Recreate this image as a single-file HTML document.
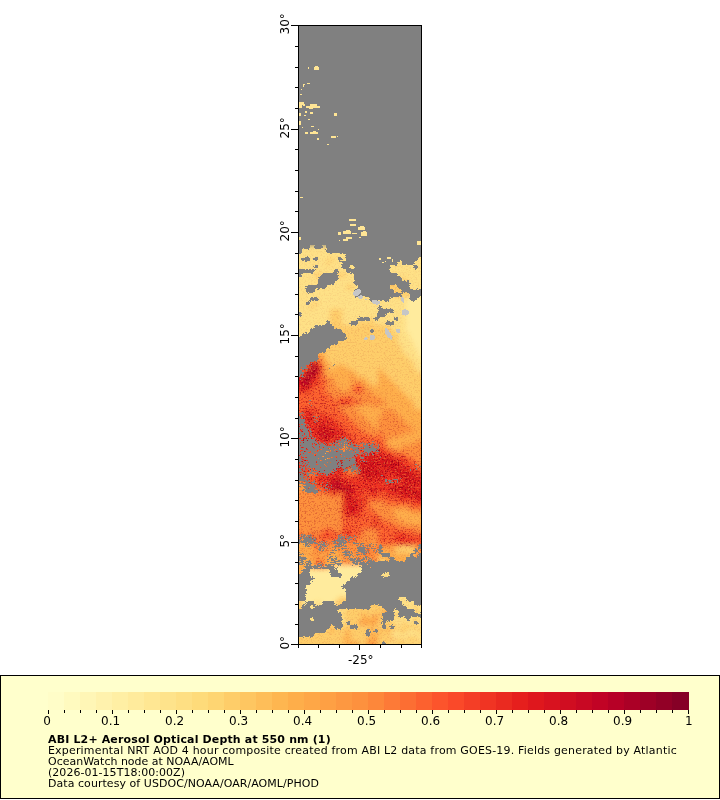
<!DOCTYPE html>
<html><head><meta charset="utf-8"><title>ABI L2+ Aerosol Optical Depth at 550 nm</title>
<style>
html,body{margin:0;padding:0;background:#fff;}
body{width:720px;height:800px;overflow:hidden;position:relative;font-family:"DejaVu Sans","Liberation Sans",sans-serif;}
svg{position:absolute;left:0;top:0;}
text{font-family:"DejaVu Sans","Liberation Sans",sans-serif;fill:#000;}
</style></head><body>
<svg width="720" height="800" viewBox="0 0 720 800">

<g id="map" shape-rendering="crispEdges">
<rect x="298" y="25" width="124" height="620" fill="#808080"/>
<defs><clipPath id="mc"><rect x="298" y="25" width="124" height="620"/></clipPath><filter id="bl" x="-5%" y="-5%" width="110%" height="110%"><feGaussianBlur stdDeviation="2.6"/></filter><filter id="nzd" filterUnits="userSpaceOnUse" x="298" y="245" width="124" height="400" color-interpolation-filters="sRGB"><feGaussianBlur in="SourceAlpha" stdDeviation="2.2" result="a"/><feTurbulence type="fractalNoise" baseFrequency="0.62" numOctaves="2" seed="11" result="t"/><feColorMatrix in="t" type="matrix" values="0 0 0 0 0.62  0 0 0 0 0.0  0 0 0 0 0.10  5 0 0 0 -2.55" result="n"/><feComposite in="n" in2="a" operator="in"/></filter><filter id="nzl" filterUnits="userSpaceOnUse" x="298" y="245" width="124" height="400" color-interpolation-filters="sRGB"><feGaussianBlur in="SourceAlpha" stdDeviation="2.2" result="a"/><feTurbulence type="fractalNoise" baseFrequency="0.62" numOctaves="2" seed="29" result="t"/><feColorMatrix in="t" type="matrix" values="0 0 0 0 1.0  0 0 0 0 0.62  0 0 0 0 0.25  0 5 0 0 -2.7" result="n"/><feComposite in="n" in2="a" operator="in"/></filter></defs>
<g clip-path="url(#mc)">
<g filter="url(#bl)">
<path fill="#ffeb9d" d="M418 293h12v4h-12zM406 297h24v4h-24zM406 301h24v4h-24zM406 305h24v4h-24zM406 309h24v4h-24zM406 313h24v4h-24zM406 317h24v4h-24zM406 321h24v4h-24zM406 325h24v4h-24zM406 329h24v4h-24zM410 333h20v4h-20zM410 337h20v4h-20zM414 341h16v4h-16zM414 345h16v4h-16zM418 349h12v4h-12zM418 353h12v4h-12zM334 565h32v4h-32zM306 569h64v4h-64zM306 573h64v4h-64zM306 577h64v4h-64zM302 581h68v4h-68zM290 585h80v4h-80zM290 589h76v4h-76zM290 593h72v4h-72zM302 597h36v4h-36zM306 601h8v4h-8zM322 601h12v4h-12zM322 605h12v4h-12zM322 609h8v4h-8zM322 613h8v4h-8z"/>
<path fill="#fee187" d="M290 245h140v4h-140zM290 249h140v4h-140zM290 253h140v4h-140zM290 257h40v4h-40zM334 257h96v4h-96zM290 261h36v4h-36zM330 261h100v4h-100zM290 265h140v4h-140zM290 269h140v4h-140zM290 273h24v4h-24zM322 273h12v4h-12zM346 273h84v4h-84zM290 277h28v4h-28zM322 277h80v4h-80zM406 277h24v4h-24zM290 281h84v4h-84zM398 281h4v4h-4zM406 281h24v4h-24zM290 285h56v4h-56zM354 285h20v4h-20zM406 285h24v4h-24zM290 289h92v4h-92zM410 289h20v4h-20zM290 293h104v4h-104zM414 293h4v4h-4zM290 297h116v4h-116zM290 301h24v4h-24zM318 301h88v4h-88zM290 305h20v4h-20zM314 305h92v4h-92zM290 309h40v4h-40zM342 309h64v4h-64zM290 313h40v4h-40zM342 313h64v4h-64zM290 317h40v4h-40zM342 317h28v4h-28zM374 317h32v4h-32zM290 321h40v4h-40zM342 321h16v4h-16zM374 321h32v4h-32zM290 325h40v4h-40zM390 325h16v4h-16zM290 329h40v4h-40zM394 329h12v4h-12zM290 333h40v4h-40zM398 333h12v4h-12zM290 337h36v4h-36zM398 337h12v4h-12zM290 341h24v4h-24zM398 341h16v4h-16zM290 345h20v4h-20zM402 345h12v4h-12zM290 349h16v4h-16zM402 349h16v4h-16zM290 353h12v4h-12zM406 353h12v4h-12zM410 357h20v4h-20zM414 361h16v4h-16zM414 365h16v4h-16zM418 369h12v4h-12zM378 569h16v4h-16zM370 573h32v4h-32zM370 577h32v4h-32zM410 577h4v4h-4zM370 581h60v4h-60zM374 585h56v4h-56zM382 589h48v4h-48zM386 593h44v4h-44zM386 597h44v4h-44zM302 601h4v4h-4zM314 601h8v4h-8zM390 601h40v4h-40zM302 605h20v4h-20zM342 605h4v4h-4zM390 605h24v4h-24zM418 605h12v4h-12zM302 609h20v4h-20zM330 609h16v4h-16zM390 609h24v4h-24zM418 609h12v4h-12zM302 613h20v4h-20zM330 613h12v4h-12zM402 613h12v4h-12zM418 613h12v4h-12zM302 617h24v4h-24zM334 617h12v4h-12zM390 617h24v4h-24zM418 617h12v4h-12zM302 621h20v4h-20zM334 621h12v4h-12zM394 621h8v4h-8zM406 621h8v4h-8zM418 621h12v4h-12zM306 625h8v4h-8zM398 625h4v4h-4zM418 625h12v4h-12zM394 629h4v4h-4zM406 629h12v4h-12zM390 633h40v4h-40zM394 637h4v4h-4zM402 637h4v4h-4zM418 637h12v4h-12zM390 641h4v12h-4zM406 641h4v12h-4zM414 641h4v12h-4z"/>
<path fill="#fece6a" d="M330 257h4v4h-4zM326 261h4v4h-4zM314 273h8v4h-8zM334 273h12v4h-12zM318 277h4v4h-4zM402 277h4v4h-4zM374 281h24v4h-24zM402 281h4v4h-4zM346 285h8v4h-8zM374 285h32v4h-32zM382 289h28v4h-28zM394 293h20v4h-20zM314 301h4v4h-4zM310 305h4v4h-4zM330 309h12v4h-12zM330 313h12v4h-12zM330 317h12v4h-12zM370 317h4v4h-4zM330 321h12v4h-12zM358 321h16v4h-16zM330 325h60v4h-60zM330 329h64v4h-64zM330 333h68v4h-68zM326 337h72v4h-72zM322 341h76v4h-76zM322 345h80v4h-80zM322 349h80v4h-80zM326 353h80v4h-80zM326 357h84v4h-84zM330 361h84v4h-84zM330 365h4v4h-4zM346 365h68v4h-68zM354 369h24v4h-24zM382 369h36v4h-36zM358 373h20v4h-20zM386 373h44v4h-44zM366 377h12v4h-12zM390 377h40v4h-40zM370 381h8v4h-8zM394 381h36v4h-36zM398 385h32v4h-32zM402 389h28v4h-28zM406 393h24v4h-24zM410 397h20v4h-20zM414 401h16v4h-16zM414 405h16v4h-16zM398 545h16v4h-16zM394 549h20v4h-20zM410 553h4v4h-4zM378 557h8v4h-8zM410 557h4v4h-4zM378 561h8v4h-8zM410 561h4v4h-4zM378 565h8v4h-8zM410 565h4v4h-4zM410 569h4v4h-4zM410 573h4v4h-4zM370 585h4v4h-4zM366 589h16v4h-16zM362 593h24v4h-24zM290 597h12v4h-12zM338 597h48v4h-48zM290 601h12v4h-12zM334 601h56v4h-56zM290 605h12v4h-12zM334 605h8v4h-8zM346 605h44v4h-44zM414 605h4v4h-4zM290 609h12v4h-12zM346 609h36v4h-36zM414 609h4v4h-4zM290 613h12v4h-12zM342 613h20v4h-20zM366 613h8v4h-8zM378 613h4v4h-4zM390 613h12v4h-12zM414 613h4v4h-4zM290 617h12v4h-12zM326 617h8v4h-8zM346 617h16v4h-16zM378 617h12v4h-12zM414 617h4v4h-4zM290 621h12v4h-12zM322 621h12v4h-12zM346 621h12v4h-12zM378 621h16v4h-16zM402 621h4v4h-4zM414 621h4v4h-4zM290 625h16v4h-16zM314 625h56v4h-56zM374 625h24v4h-24zM402 625h16v4h-16zM290 629h40v4h-40zM334 629h12v4h-12zM350 629h20v4h-20zM374 629h4v4h-4zM382 629h4v4h-4zM390 629h4v4h-4zM398 629h8v4h-8zM418 629h12v4h-12zM290 633h56v4h-56zM350 633h20v4h-20zM378 633h12v4h-12zM290 637h52v4h-52zM350 637h16v4h-16zM378 637h12v4h-12zM398 637h4v4h-4zM406 637h12v4h-12zM290 641h56v12h-56zM358 641h8v12h-8zM378 641h12v12h-12zM394 641h12v12h-12zM410 641h4v12h-4zM418 641h12v12h-12z"/>
<path fill="#feaf4b" d="M314 341h8v4h-8zM310 345h12v4h-12zM306 349h16v4h-16zM302 353h24v4h-24zM322 357h4v4h-4zM322 361h8v4h-8zM326 365h4v4h-4zM334 365h12v4h-12zM326 369h28v4h-28zM378 369h4v4h-4zM326 373h32v4h-32zM378 373h8v4h-8zM334 377h16v4h-16zM354 377h12v4h-12zM378 377h12v4h-12zM334 381h20v4h-20zM362 381h8v4h-8zM378 381h16v4h-16zM338 385h12v4h-12zM366 385h32v4h-32zM342 389h4v4h-4zM370 389h32v4h-32zM374 393h32v4h-32zM382 397h28v4h-28zM386 401h28v4h-28zM354 405h20v4h-20zM378 405h36v4h-36zM358 409h24v4h-24zM394 409h36v4h-36zM362 413h20v4h-20zM398 413h32v4h-32zM366 417h12v4h-12zM402 417h28v4h-28zM370 421h8v4h-8zM406 421h24v4h-24zM374 425h4v4h-4zM410 425h20v4h-20zM414 429h16v4h-16zM402 433h28v4h-28zM390 437h40v4h-40zM342 441h4v4h-4zM386 441h28v4h-28zM342 445h4v4h-4zM390 445h12v4h-12zM322 449h8v4h-8zM322 453h8v4h-8zM322 457h8v4h-8zM322 461h8v4h-8zM290 485h16v4h-16zM394 509h16v4h-16zM394 513h36v4h-36zM398 517h32v4h-32zM406 521h24v4h-24zM290 541h20v4h-20zM374 541h4v4h-4zM290 545h24v4h-24zM382 545h4v4h-4zM390 545h8v4h-8zM414 545h4v4h-4zM290 549h12v4h-12zM306 549h8v4h-8zM330 549h8v4h-8zM382 549h8v4h-8zM414 549h4v4h-4zM290 553h20v4h-20zM318 553h8v4h-8zM330 553h12v4h-12zM350 553h4v4h-4zM378 553h32v4h-32zM290 557h24v4h-24zM326 557h16v4h-16zM350 557h4v4h-4zM386 557h24v4h-24zM290 561h24v4h-24zM326 561h16v4h-16zM386 561h24v4h-24zM290 565h24v4h-24zM326 565h8v4h-8zM386 565h24v4h-24zM290 569h16v4h-16zM394 569h16v4h-16zM290 573h16v4h-16zM402 573h8v4h-8zM290 577h16v4h-16zM402 577h8v4h-8zM290 581h12v4h-12zM382 609h8v4h-8zM362 613h4v4h-4zM374 613h4v4h-4zM382 613h8v4h-8zM362 617h12v4h-12zM358 621h4v4h-4zM366 621h12v4h-12zM370 625h4v4h-4zM330 629h4v4h-4zM346 629h4v4h-4zM370 629h4v4h-4zM378 629h4v4h-4zM386 629h4v4h-4zM346 633h4v4h-4zM370 633h8v4h-8zM342 637h8v4h-8zM366 637h12v4h-12zM390 637h4v4h-4zM346 641h12v12h-12zM366 641h4v12h-4zM374 641h4v12h-4z"/>
<path fill="#fd913e" d="M314 357h8v4h-8zM322 365h4v4h-4zM322 369h4v4h-4zM322 373h4v4h-4zM326 377h8v4h-8zM350 377h4v4h-4zM326 381h8v4h-8zM354 381h8v4h-8zM326 385h12v4h-12zM350 385h4v4h-4zM362 385h4v4h-4zM326 389h16v4h-16zM346 389h8v4h-8zM362 389h8v4h-8zM330 393h44v4h-44zM334 397h4v4h-4zM354 397h28v4h-28zM362 401h24v4h-24zM338 405h16v4h-16zM374 405h4v4h-4zM342 409h16v4h-16zM382 409h12v4h-12zM346 413h16v4h-16zM382 413h16v4h-16zM350 417h16v4h-16zM378 417h24v4h-24zM354 421h16v4h-16zM378 421h28v4h-28zM358 425h16v4h-16zM378 425h32v4h-32zM362 429h52v4h-52zM370 433h8v4h-8zM382 433h20v4h-20zM382 437h8v4h-8zM414 441h16v4h-16zM346 445h4v4h-4zM386 445h4v4h-4zM402 445h28v4h-28zM342 449h8v4h-8zM394 449h36v4h-36zM342 453h8v4h-8zM406 453h24v4h-24zM342 457h4v4h-4zM414 457h16v4h-16zM418 461h12v4h-12zM350 465h4v4h-4zM346 469h12v4h-12zM310 473h4v4h-4zM290 477h12v4h-12zM290 481h16v4h-16zM290 489h24v4h-24zM290 493h40v4h-40zM338 493h4v4h-4zM290 497h52v4h-52zM290 501h52v4h-52zM370 501h16v4h-16zM290 505h52v4h-52zM370 505h40v4h-40zM290 509h52v4h-52zM374 509h20v4h-20zM410 509h20v4h-20zM290 513h52v4h-52zM378 513h16v4h-16zM290 517h52v4h-52zM382 517h16v4h-16zM290 521h52v4h-52zM390 521h16v4h-16zM290 525h52v4h-52zM398 525h32v4h-32zM290 529h32v4h-32zM334 529h8v4h-8zM362 529h16v4h-16zM414 529h16v4h-16zM302 533h8v4h-8zM314 533h4v4h-4zM362 533h16v4h-16zM302 537h8v4h-8zM314 537h4v4h-4zM358 537h20v4h-20zM318 541h4v4h-4zM326 541h8v4h-8zM338 541h36v4h-36zM318 545h60v4h-60zM386 545h4v4h-4zM302 549h4v4h-4zM314 549h16v4h-16zM338 549h24v4h-24zM370 549h12v4h-12zM390 549h4v4h-4zM418 549h12v4h-12zM310 553h8v4h-8zM326 553h4v4h-4zM342 553h8v4h-8zM354 553h24v4h-24zM414 553h16v4h-16zM314 557h12v4h-12zM342 557h8v4h-8zM354 557h24v4h-24zM414 557h16v4h-16zM314 561h4v4h-4zM322 561h4v4h-4zM342 561h36v4h-36zM414 561h16v4h-16zM314 565h4v4h-4zM322 565h4v4h-4zM366 565h12v4h-12zM414 565h16v4h-16zM370 569h8v4h-8zM414 569h16v4h-16zM414 573h16v4h-16zM414 577h16v4h-16zM374 617h4v4h-4zM362 621h4v4h-4zM370 641h4v12h-4z"/>
<path fill="#fc602f" d="M290 365h20v4h-20zM290 369h16v4h-16zM318 377h8v4h-8zM318 381h8v4h-8zM314 385h12v4h-12zM354 385h8v4h-8zM310 389h16v4h-16zM354 389h8v4h-8zM290 393h40v4h-40zM290 397h44v4h-44zM338 397h16v4h-16zM290 401h48v4h-48zM350 401h12v4h-12zM290 405h48v4h-48zM290 409h12v4h-12zM318 409h24v4h-24zM290 413h12v4h-12zM314 413h4v4h-4zM326 413h20v4h-20zM314 417h4v4h-4zM334 417h16v4h-16zM338 421h16v4h-16zM342 425h16v4h-16zM346 429h16v4h-16zM350 433h20v4h-20zM378 433h4v4h-4zM354 437h28v4h-28zM330 441h4v4h-4zM354 441h32v4h-32zM330 445h12v4h-12zM354 445h32v4h-32zM310 449h8v4h-8zM330 449h12v4h-12zM358 449h4v4h-4zM386 449h8v4h-8zM310 453h12v4h-12zM330 453h12v4h-12zM394 453h12v4h-12zM314 457h8v4h-8zM330 457h4v4h-4zM406 457h8v4h-8zM314 461h8v4h-8zM410 461h8v4h-8zM414 465h16v4h-16zM306 469h12v4h-12zM342 469h4v4h-4zM418 469h12v4h-12zM306 473h4v4h-4zM314 473h4v4h-4zM346 473h12v4h-12zM310 477h4v4h-4zM310 481h4v4h-4zM310 485h12v4h-12zM314 489h12v4h-12zM330 493h8v4h-8zM362 493h8v4h-8zM378 493h8v4h-8zM366 497h32v4h-32zM366 501h4v4h-4zM386 501h28v4h-28zM362 505h8v4h-8zM410 505h20v4h-20zM362 509h12v4h-12zM362 513h16v4h-16zM342 517h32v4h-32zM378 517h4v4h-4zM342 521h32v4h-32zM378 521h12v4h-12zM342 525h32v4h-32zM378 525h20v4h-20zM322 529h12v4h-12zM350 529h12v4h-12zM378 529h36v4h-36zM290 533h12v4h-12zM318 533h8v4h-8zM330 533h16v4h-16zM350 533h12v4h-12zM378 533h16v4h-16zM406 533h24v4h-24zM290 537h12v4h-12zM318 537h40v4h-40zM378 537h16v4h-16zM310 541h8v4h-8zM322 541h4v4h-4zM334 541h4v4h-4zM378 541h20v4h-20zM414 541h16v4h-16zM314 545h4v4h-4zM378 545h4v4h-4zM418 545h12v4h-12zM362 549h8v4h-8zM318 561h4v4h-4zM318 565h4v4h-4z"/>
<path fill="#ef3323" d="M290 357h24v4h-24zM290 361h24v4h-24zM318 361h4v4h-4zM318 365h4v4h-4zM318 369h4v4h-4zM290 373h16v4h-16zM318 373h4v4h-4zM314 377h4v4h-4zM310 381h8v4h-8zM310 385h4v4h-4zM290 389h20v4h-20zM338 401h12v4h-12zM302 409h16v4h-16zM302 413h4v4h-4zM310 413h4v4h-4zM318 413h8v4h-8zM290 417h16v4h-16zM318 417h16v4h-16zM290 421h28v4h-28zM322 421h16v4h-16zM290 425h28v4h-28zM330 425h12v4h-12zM290 429h24v4h-24zM334 429h12v4h-12zM290 433h28v4h-28zM342 433h8v4h-8zM290 437h32v4h-32zM334 437h20v4h-20zM290 441h40v4h-40zM334 441h8v4h-8zM346 441h8v4h-8zM290 445h40v4h-40zM350 445h4v4h-4zM290 449h20v4h-20zM318 449h4v4h-4zM350 449h8v4h-8zM362 449h24v4h-24zM290 453h20v4h-20zM350 453h16v4h-16zM374 453h20v4h-20zM290 457h24v4h-24zM350 457h16v4h-16zM394 457h12v4h-12zM290 461h24v4h-24zM354 461h4v4h-4zM402 461h8v4h-8zM290 465h40v4h-40zM354 465h4v4h-4zM378 465h4v4h-4zM402 465h12v4h-12zM290 469h16v4h-16zM318 469h24v4h-24zM382 469h8v4h-8zM410 469h8v4h-8zM290 473h16v4h-16zM318 473h28v4h-28zM358 473h4v4h-4zM386 473h8v4h-8zM418 473h12v4h-12zM302 477h8v4h-8zM314 477h16v4h-16zM342 477h24v4h-24zM374 477h4v4h-4zM382 477h20v4h-20zM418 477h12v4h-12zM306 481h4v4h-4zM314 481h12v4h-12zM346 481h60v4h-60zM306 485h4v4h-4zM322 485h4v4h-4zM354 485h40v4h-40zM410 485h20v4h-20zM326 489h4v4h-4zM338 489h4v4h-4zM354 489h16v4h-16zM378 489h12v4h-12zM342 493h4v4h-4zM354 493h8v4h-8zM370 493h8v4h-8zM386 493h16v4h-16zM342 497h4v4h-4zM350 497h16v4h-16zM398 497h20v4h-20zM342 501h4v4h-4zM354 501h4v4h-4zM362 501h4v4h-4zM414 501h16v4h-16zM342 505h4v4h-4zM358 505h4v4h-4zM342 509h4v4h-4zM358 509h4v4h-4zM342 513h8v4h-8zM354 513h8v4h-8zM374 517h4v4h-4zM374 525h4v4h-4zM342 529h8v4h-8zM310 533h4v4h-4zM326 533h4v4h-4zM346 533h4v4h-4zM394 533h12v4h-12zM310 537h4v4h-4zM394 537h36v4h-36zM398 541h16v4h-16z"/>
<path fill="#d7121f" d="M314 361h4v4h-4zM306 369h4v4h-4zM314 373h4v4h-4zM290 377h12v4h-12zM310 377h4v4h-4zM290 381h12v4h-12zM290 385h20v4h-20zM306 413h4v4h-4zM306 417h8v4h-8zM318 421h4v4h-4zM318 425h12v4h-12zM314 429h20v4h-20zM318 433h4v4h-4zM326 433h16v4h-16zM322 437h12v4h-12zM366 453h8v4h-8zM366 457h28v4h-28zM358 461h44v4h-44zM358 465h20v4h-20zM382 465h20v4h-20zM362 469h20v4h-20zM390 469h20v4h-20zM362 473h24v4h-24zM394 473h24v4h-24zM330 477h12v4h-12zM366 477h8v4h-8zM378 477h4v4h-4zM402 477h16v4h-16zM326 481h8v4h-8zM338 481h8v4h-8zM406 481h24v4h-24zM326 485h8v4h-8zM342 485h12v4h-12zM394 485h16v4h-16zM330 489h8v4h-8zM342 489h4v4h-4zM350 489h4v4h-4zM370 489h8v4h-8zM390 489h40v4h-40zM346 493h8v4h-8zM402 493h28v4h-28zM346 497h4v4h-4zM418 497h12v4h-12zM346 501h8v4h-8zM358 501h4v4h-4zM346 505h12v4h-12zM346 509h12v4h-12zM350 513h4v4h-4zM374 521h4v4h-4z"/>
<path fill="#b10026" d="M310 365h8v4h-8zM310 369h8v4h-8zM306 373h8v4h-8zM302 377h8v4h-8zM302 381h8v4h-8zM322 433h4v4h-4zM334 457h8v4h-8zM346 457h4v4h-4zM330 461h24v4h-24zM330 465h20v4h-20zM358 469h4v4h-4zM334 481h4v4h-4zM334 485h8v4h-8zM346 489h4v4h-4z"/>
</g>
<g filter="url(#nzd)">
<path fill="#000" fill-opacity="0.05" d="M298 245h124v4h-124zM298 249h124v4h-124zM298 253h124v4h-124zM298 257h32v4h-32zM334 257h88v4h-88zM298 261h28v4h-28zM330 261h92v4h-92zM298 265h124v4h-124zM298 269h124v4h-124zM298 273h16v4h-16zM322 273h12v4h-12zM346 273h76v4h-76zM298 277h20v4h-20zM322 277h80v4h-80zM406 277h16v4h-16zM298 281h76v4h-76zM398 281h4v4h-4zM406 281h16v4h-16zM298 285h48v4h-48zM354 285h20v4h-20zM406 285h16v4h-16zM298 289h84v4h-84zM410 289h12v4h-12zM298 293h96v4h-96zM414 293h4v4h-4zM298 297h108v4h-108zM298 301h16v4h-16zM318 301h88v4h-88zM298 305h12v4h-12zM314 305h92v4h-92zM298 309h32v4h-32zM342 309h64v4h-64zM298 313h32v4h-32zM342 313h64v4h-64zM298 317h32v4h-32zM342 317h28v4h-28zM374 317h32v4h-32zM298 321h32v4h-32zM342 321h16v4h-16zM374 321h32v4h-32zM298 325h32v4h-32zM390 325h16v4h-16zM298 329h32v4h-32zM394 329h12v4h-12zM298 333h32v4h-32zM398 333h12v4h-12zM298 337h28v4h-28zM398 337h12v4h-12zM298 341h16v4h-16zM398 341h16v4h-16zM298 345h12v4h-12zM402 345h12v4h-12zM298 349h8v4h-8zM402 349h16v4h-16zM298 353h4v4h-4zM406 353h12v4h-12zM410 357h12v4h-12zM414 361h8v4h-8zM414 365h8v4h-8zM418 369h4v4h-4zM378 569h16v4h-16zM370 573h32v4h-32zM370 577h32v4h-32zM410 577h4v4h-4zM370 581h52v4h-52zM374 585h48v4h-48zM382 589h40v4h-40zM386 593h36v4h-36zM386 597h36v4h-36zM302 601h4v4h-4zM314 601h8v4h-8zM390 601h32v4h-32zM302 605h20v4h-20zM342 605h4v4h-4zM390 605h24v4h-24zM418 605h4v4h-4zM302 609h20v4h-20zM330 609h16v4h-16zM390 609h24v4h-24zM418 609h4v4h-4zM302 613h20v4h-20zM330 613h12v4h-12zM402 613h12v4h-12zM418 613h4v4h-4zM302 617h24v4h-24zM334 617h12v4h-12zM390 617h24v4h-24zM418 617h4v4h-4zM302 621h20v4h-20zM334 621h12v4h-12zM394 621h8v4h-8zM406 621h8v4h-8zM418 621h4v4h-4zM306 625h8v4h-8zM398 625h4v4h-4zM418 625h4v4h-4zM394 629h4v4h-4zM406 629h12v4h-12zM390 633h32v4h-32zM394 637h4v4h-4zM402 637h4v4h-4zM418 637h4v4h-4zM390 641h4v4h-4zM406 641h4v4h-4zM414 641h4v4h-4z"/>
<path fill="#000" fill-opacity="0.09" d="M330 257h4v4h-4zM326 261h4v4h-4zM314 273h8v4h-8zM334 273h12v4h-12zM318 277h4v4h-4zM402 277h4v4h-4zM374 281h24v4h-24zM402 281h4v4h-4zM346 285h8v4h-8zM374 285h32v4h-32zM382 289h28v4h-28zM394 293h20v4h-20zM314 301h4v4h-4zM310 305h4v4h-4zM330 309h12v4h-12zM330 313h12v4h-12zM330 317h12v4h-12zM370 317h4v4h-4zM330 321h12v4h-12zM358 321h16v4h-16zM330 325h60v4h-60zM330 329h64v4h-64zM330 333h68v4h-68zM326 337h72v4h-72zM322 341h76v4h-76zM322 345h80v4h-80zM322 349h80v4h-80zM326 353h80v4h-80zM326 357h84v4h-84zM330 361h84v4h-84zM330 365h4v4h-4zM346 365h68v4h-68zM354 369h24v4h-24zM382 369h36v4h-36zM358 373h20v4h-20zM386 373h36v4h-36zM366 377h12v4h-12zM390 377h32v4h-32zM370 381h8v4h-8zM394 381h28v4h-28zM398 385h24v4h-24zM402 389h20v4h-20zM406 393h16v4h-16zM410 397h12v4h-12zM414 401h8v4h-8zM414 405h8v4h-8zM398 545h16v4h-16zM394 549h20v4h-20zM410 553h4v4h-4zM378 557h8v4h-8zM410 557h4v4h-4zM378 561h8v4h-8zM410 561h4v4h-4zM378 565h8v4h-8zM410 565h4v4h-4zM410 569h4v4h-4zM410 573h4v4h-4zM370 585h4v4h-4zM366 589h16v4h-16zM362 593h24v4h-24zM298 597h4v4h-4zM338 597h48v4h-48zM298 601h4v4h-4zM334 601h56v4h-56zM298 605h4v4h-4zM334 605h8v4h-8zM346 605h44v4h-44zM414 605h4v4h-4zM298 609h4v4h-4zM346 609h36v4h-36zM414 609h4v4h-4zM298 613h4v4h-4zM342 613h20v4h-20zM366 613h8v4h-8zM378 613h4v4h-4zM390 613h12v4h-12zM414 613h4v4h-4zM298 617h4v4h-4zM326 617h8v4h-8zM346 617h16v4h-16zM378 617h12v4h-12zM414 617h4v4h-4zM298 621h4v4h-4zM322 621h12v4h-12zM346 621h12v4h-12zM378 621h16v4h-16zM402 621h4v4h-4zM414 621h4v4h-4zM298 625h8v4h-8zM314 625h56v4h-56zM374 625h24v4h-24zM402 625h16v4h-16zM298 629h32v4h-32zM334 629h12v4h-12zM350 629h20v4h-20zM374 629h4v4h-4zM382 629h4v4h-4zM390 629h4v4h-4zM398 629h8v4h-8zM418 629h4v4h-4zM298 633h48v4h-48zM350 633h20v4h-20zM378 633h12v4h-12zM298 637h44v4h-44zM350 637h16v4h-16zM378 637h12v4h-12zM398 637h4v4h-4zM406 637h12v4h-12zM298 641h48v4h-48zM358 641h8v4h-8zM378 641h12v4h-12zM394 641h12v4h-12zM410 641h4v4h-4zM418 641h4v4h-4z"/>
<path fill="#000" fill-opacity="0.12" d="M314 341h8v4h-8zM310 345h12v4h-12zM306 349h16v4h-16zM302 353h24v4h-24zM322 357h4v4h-4zM322 361h8v4h-8zM326 365h4v4h-4zM334 365h12v4h-12zM326 369h28v4h-28zM378 369h4v4h-4zM326 373h32v4h-32zM378 373h8v4h-8zM334 377h16v4h-16zM354 377h12v4h-12zM378 377h12v4h-12zM334 381h20v4h-20zM362 381h8v4h-8zM378 381h16v4h-16zM338 385h12v4h-12zM366 385h32v4h-32zM342 389h4v4h-4zM370 389h32v4h-32zM374 393h32v4h-32zM382 397h28v4h-28zM386 401h28v4h-28zM354 405h20v4h-20zM378 405h36v4h-36zM358 409h24v4h-24zM394 409h28v4h-28zM362 413h20v4h-20zM398 413h24v4h-24zM366 417h12v4h-12zM402 417h20v4h-20zM370 421h8v4h-8zM406 421h16v4h-16zM374 425h4v4h-4zM410 425h12v4h-12zM414 429h8v4h-8zM402 433h20v4h-20zM390 437h32v4h-32zM342 441h4v4h-4zM386 441h28v4h-28zM342 445h4v4h-4zM390 445h12v4h-12zM322 449h8v4h-8zM322 453h8v4h-8zM322 457h8v4h-8zM322 461h8v4h-8zM298 485h8v4h-8zM394 509h16v4h-16zM394 513h28v4h-28zM398 517h24v4h-24zM406 521h16v4h-16zM298 541h12v4h-12zM374 541h4v4h-4zM298 545h16v4h-16zM382 545h4v4h-4zM390 545h8v4h-8zM414 545h4v4h-4zM298 549h4v4h-4zM306 549h8v4h-8zM330 549h8v4h-8zM382 549h8v4h-8zM414 549h4v4h-4zM298 553h12v4h-12zM318 553h8v4h-8zM330 553h12v4h-12zM350 553h4v4h-4zM378 553h32v4h-32zM298 557h16v4h-16zM326 557h16v4h-16zM350 557h4v4h-4zM386 557h24v4h-24zM298 561h16v4h-16zM326 561h16v4h-16zM386 561h24v4h-24zM298 565h16v4h-16zM326 565h8v4h-8zM386 565h24v4h-24zM298 569h8v4h-8zM394 569h16v4h-16zM298 573h8v4h-8zM402 573h8v4h-8zM298 577h8v4h-8zM402 577h8v4h-8zM298 581h4v4h-4zM382 609h8v4h-8zM362 613h4v4h-4zM374 613h4v4h-4zM382 613h8v4h-8zM362 617h12v4h-12zM358 621h4v4h-4zM366 621h12v4h-12zM370 625h4v4h-4zM330 629h4v4h-4zM346 629h4v4h-4zM370 629h4v4h-4zM378 629h4v4h-4zM386 629h4v4h-4zM346 633h4v4h-4zM370 633h8v4h-8zM342 637h8v4h-8zM366 637h12v4h-12zM390 637h4v4h-4zM346 641h12v4h-12zM366 641h4v4h-4zM374 641h4v4h-4z"/>
<path fill="#000" fill-opacity="0.28" d="M314 357h8v4h-8zM322 365h4v4h-4zM322 369h4v4h-4zM322 373h4v4h-4zM326 377h8v4h-8zM350 377h4v4h-4zM326 381h8v4h-8zM354 381h8v4h-8zM326 385h12v4h-12zM350 385h4v4h-4zM362 385h4v4h-4zM326 389h16v4h-16zM346 389h8v4h-8zM362 389h8v4h-8zM330 393h44v4h-44zM334 397h4v4h-4zM354 397h28v4h-28zM362 401h24v4h-24zM338 405h16v4h-16zM374 405h4v4h-4zM342 409h16v4h-16zM382 409h12v4h-12zM346 413h16v4h-16zM382 413h16v4h-16zM350 417h16v4h-16zM378 417h24v4h-24zM354 421h16v4h-16zM378 421h28v4h-28zM358 425h16v4h-16zM378 425h32v4h-32zM362 429h52v4h-52zM370 433h8v4h-8zM382 433h20v4h-20zM382 437h8v4h-8zM414 441h8v4h-8zM346 445h4v4h-4zM386 445h4v4h-4zM402 445h20v4h-20zM342 449h8v4h-8zM394 449h28v4h-28zM342 453h8v4h-8zM406 453h16v4h-16zM342 457h4v4h-4zM414 457h8v4h-8zM418 461h4v4h-4zM350 465h4v4h-4zM346 469h12v4h-12zM310 473h4v4h-4zM298 477h4v4h-4zM298 481h8v4h-8zM298 489h16v4h-16zM298 493h32v4h-32zM338 493h4v4h-4zM298 497h44v4h-44zM298 501h44v4h-44zM370 501h16v4h-16zM298 505h44v4h-44zM370 505h40v4h-40zM298 509h44v4h-44zM374 509h20v4h-20zM410 509h12v4h-12zM298 513h44v4h-44zM378 513h16v4h-16zM298 517h44v4h-44zM382 517h16v4h-16zM298 521h44v4h-44zM390 521h16v4h-16zM298 525h44v4h-44zM398 525h24v4h-24zM298 529h24v4h-24zM334 529h8v4h-8zM362 529h16v4h-16zM414 529h8v4h-8zM302 533h8v4h-8zM314 533h4v4h-4zM362 533h16v4h-16zM302 537h8v4h-8zM314 537h4v4h-4zM358 537h20v4h-20zM318 541h4v4h-4zM326 541h8v4h-8zM338 541h36v4h-36zM318 545h60v4h-60zM386 545h4v4h-4zM302 549h4v4h-4zM314 549h16v4h-16zM338 549h24v4h-24zM370 549h12v4h-12zM390 549h4v4h-4zM418 549h4v4h-4zM310 553h8v4h-8zM326 553h4v4h-4zM342 553h8v4h-8zM354 553h24v4h-24zM414 553h8v4h-8zM314 557h12v4h-12zM342 557h8v4h-8zM354 557h24v4h-24zM414 557h8v4h-8zM314 561h4v4h-4zM322 561h4v4h-4zM342 561h36v4h-36zM414 561h8v4h-8zM314 565h4v4h-4zM322 565h4v4h-4zM366 565h12v4h-12zM414 565h8v4h-8zM370 569h8v4h-8zM414 569h8v4h-8zM414 573h8v4h-8zM414 577h8v4h-8zM374 617h4v4h-4zM362 621h4v4h-4zM370 641h4v4h-4z"/>
<path fill="#000" fill-opacity="0.55" d="M298 365h12v4h-12zM298 369h8v4h-8zM318 377h8v4h-8zM318 381h8v4h-8zM314 385h12v4h-12zM354 385h8v4h-8zM310 389h16v4h-16zM354 389h8v4h-8zM298 393h32v4h-32zM298 397h36v4h-36zM338 397h16v4h-16zM298 401h40v4h-40zM350 401h12v4h-12zM298 405h40v4h-40zM298 409h4v4h-4zM318 409h24v4h-24zM298 413h4v4h-4zM314 413h4v4h-4zM326 413h20v4h-20zM314 417h4v4h-4zM334 417h16v4h-16zM338 421h16v4h-16zM342 425h16v4h-16zM346 429h16v4h-16zM350 433h20v4h-20zM378 433h4v4h-4zM354 437h28v4h-28zM330 441h4v4h-4zM354 441h32v4h-32zM330 445h12v4h-12zM354 445h32v4h-32zM310 449h8v4h-8zM330 449h12v4h-12zM358 449h4v4h-4zM386 449h8v4h-8zM310 453h12v4h-12zM330 453h12v4h-12zM394 453h12v4h-12zM314 457h8v4h-8zM330 457h4v4h-4zM406 457h8v4h-8zM314 461h8v4h-8zM410 461h8v4h-8zM414 465h8v4h-8zM306 469h12v4h-12zM342 469h4v4h-4zM418 469h4v4h-4zM306 473h4v4h-4zM314 473h4v4h-4zM346 473h12v4h-12zM310 477h4v4h-4zM310 481h4v4h-4zM310 485h12v4h-12zM314 489h12v4h-12zM330 493h8v4h-8zM362 493h8v4h-8zM378 493h8v4h-8zM366 497h32v4h-32zM366 501h4v4h-4zM386 501h28v4h-28zM362 505h8v4h-8zM410 505h12v4h-12zM362 509h12v4h-12zM362 513h16v4h-16zM342 517h32v4h-32zM378 517h4v4h-4zM342 521h32v4h-32zM378 521h12v4h-12zM342 525h32v4h-32zM378 525h20v4h-20zM322 529h12v4h-12zM350 529h12v4h-12zM378 529h36v4h-36zM298 533h4v4h-4zM318 533h8v4h-8zM330 533h16v4h-16zM350 533h12v4h-12zM378 533h16v4h-16zM406 533h16v4h-16zM298 537h4v4h-4zM318 537h40v4h-40zM378 537h16v4h-16zM310 541h8v4h-8zM322 541h4v4h-4zM334 541h4v4h-4zM378 541h20v4h-20zM414 541h8v4h-8zM314 545h4v4h-4zM378 545h4v4h-4zM418 545h4v4h-4zM362 549h8v4h-8zM318 561h4v4h-4zM318 565h4v4h-4z"/>
<path fill="#000" fill-opacity="0.8" d="M298 357h16v4h-16zM298 361h16v4h-16zM318 361h4v4h-4zM318 365h4v4h-4zM318 369h4v4h-4zM298 373h8v4h-8zM318 373h4v4h-4zM314 377h4v4h-4zM310 381h8v4h-8zM310 385h4v4h-4zM298 389h12v4h-12zM338 401h12v4h-12zM302 409h16v4h-16zM302 413h4v4h-4zM310 413h4v4h-4zM318 413h8v4h-8zM298 417h8v4h-8zM318 417h16v4h-16zM298 421h20v4h-20zM322 421h16v4h-16zM298 425h20v4h-20zM330 425h12v4h-12zM298 429h16v4h-16zM334 429h12v4h-12zM298 433h20v4h-20zM342 433h8v4h-8zM298 437h24v4h-24zM334 437h20v4h-20zM298 441h32v4h-32zM334 441h8v4h-8zM346 441h8v4h-8zM298 445h32v4h-32zM350 445h4v4h-4zM298 449h12v4h-12zM318 449h4v4h-4zM350 449h8v4h-8zM362 449h24v4h-24zM298 453h12v4h-12zM350 453h16v4h-16zM374 453h20v4h-20zM298 457h16v4h-16zM350 457h16v4h-16zM394 457h12v4h-12zM298 461h16v4h-16zM354 461h4v4h-4zM402 461h8v4h-8zM298 465h32v4h-32zM354 465h4v4h-4zM378 465h4v4h-4zM402 465h12v4h-12zM298 469h8v4h-8zM318 469h24v4h-24zM382 469h8v4h-8zM410 469h8v4h-8zM298 473h8v4h-8zM318 473h28v4h-28zM358 473h4v4h-4zM386 473h8v4h-8zM418 473h4v4h-4zM302 477h8v4h-8zM314 477h16v4h-16zM342 477h24v4h-24zM374 477h4v4h-4zM382 477h20v4h-20zM418 477h4v4h-4zM306 481h4v4h-4zM314 481h12v4h-12zM346 481h60v4h-60zM306 485h4v4h-4zM322 485h4v4h-4zM354 485h40v4h-40zM410 485h12v4h-12zM326 489h4v4h-4zM338 489h4v4h-4zM354 489h16v4h-16zM378 489h12v4h-12zM342 493h4v4h-4zM354 493h8v4h-8zM370 493h8v4h-8zM386 493h16v4h-16zM342 497h4v4h-4zM350 497h16v4h-16zM398 497h20v4h-20zM342 501h4v4h-4zM354 501h4v4h-4zM362 501h4v4h-4zM414 501h8v4h-8zM342 505h4v4h-4zM358 505h4v4h-4zM342 509h4v4h-4zM358 509h4v4h-4zM342 513h8v4h-8zM354 513h8v4h-8zM374 517h4v4h-4zM374 525h4v4h-4zM342 529h8v4h-8zM310 533h4v4h-4zM326 533h4v4h-4zM346 533h4v4h-4zM394 533h12v4h-12zM310 537h4v4h-4zM394 537h28v4h-28zM398 541h16v4h-16z"/>
<path fill="#000" fill-opacity="0.95" d="M314 361h4v4h-4zM306 369h4v4h-4zM314 373h4v4h-4zM298 377h4v4h-4zM310 377h4v4h-4zM298 381h4v4h-4zM298 385h12v4h-12zM306 413h4v4h-4zM306 417h8v4h-8zM318 421h4v4h-4zM318 425h12v4h-12zM314 429h20v4h-20zM318 433h4v4h-4zM326 433h16v4h-16zM322 437h12v4h-12zM366 453h8v4h-8zM366 457h28v4h-28zM358 461h44v4h-44zM358 465h20v4h-20zM382 465h20v4h-20zM362 469h20v4h-20zM390 469h20v4h-20zM362 473h24v4h-24zM394 473h24v4h-24zM330 477h12v4h-12zM366 477h8v4h-8zM378 477h4v4h-4zM402 477h16v4h-16zM326 481h8v4h-8zM338 481h8v4h-8zM406 481h16v4h-16zM326 485h8v4h-8zM342 485h12v4h-12zM394 485h16v4h-16zM330 489h8v4h-8zM342 489h4v4h-4zM350 489h4v4h-4zM370 489h8v4h-8zM390 489h32v4h-32zM346 493h8v4h-8zM402 493h20v4h-20zM346 497h4v4h-4zM418 497h4v4h-4zM346 501h8v4h-8zM358 501h4v4h-4zM346 505h12v4h-12zM346 509h12v4h-12zM350 513h4v4h-4zM374 521h4v4h-4z"/>
<path fill="#000" fill-opacity="1.0" d="M310 365h8v4h-8zM310 369h8v4h-8zM306 373h8v4h-8zM302 377h8v4h-8zM302 381h8v4h-8zM322 433h4v4h-4zM334 457h8v4h-8zM346 457h4v4h-4zM330 461h24v4h-24zM330 465h20v4h-20zM358 469h4v4h-4zM334 481h4v4h-4zM334 485h8v4h-8zM346 489h4v4h-4z"/>
</g>
<g filter="url(#nzl)">
<path fill="#000" fill-opacity="0.04" d="M298 245h124v4h-124zM298 249h124v4h-124zM298 253h124v4h-124zM298 257h32v4h-32zM334 257h88v4h-88zM298 261h28v4h-28zM330 261h92v4h-92zM298 265h124v4h-124zM298 269h124v4h-124zM298 273h16v4h-16zM322 273h12v4h-12zM346 273h76v4h-76zM298 277h20v4h-20zM322 277h80v4h-80zM406 277h16v4h-16zM298 281h76v4h-76zM398 281h4v4h-4zM406 281h16v4h-16zM298 285h48v4h-48zM354 285h20v4h-20zM406 285h16v4h-16zM298 289h84v4h-84zM410 289h12v4h-12zM298 293h96v4h-96zM414 293h4v4h-4zM298 297h108v4h-108zM298 301h16v4h-16zM318 301h88v4h-88zM298 305h12v4h-12zM314 305h92v4h-92zM298 309h32v4h-32zM342 309h64v4h-64zM298 313h32v4h-32zM342 313h64v4h-64zM298 317h32v4h-32zM342 317h28v4h-28zM374 317h32v4h-32zM298 321h32v4h-32zM342 321h16v4h-16zM374 321h32v4h-32zM298 325h32v4h-32zM390 325h16v4h-16zM298 329h32v4h-32zM394 329h12v4h-12zM298 333h32v4h-32zM398 333h12v4h-12zM298 337h28v4h-28zM398 337h12v4h-12zM298 341h16v4h-16zM398 341h16v4h-16zM298 345h12v4h-12zM402 345h12v4h-12zM298 349h8v4h-8zM402 349h16v4h-16zM298 353h4v4h-4zM406 353h12v4h-12zM410 357h12v4h-12zM414 361h8v4h-8zM414 365h8v4h-8zM418 369h4v4h-4zM378 569h16v4h-16zM370 573h32v4h-32zM370 577h32v4h-32zM410 577h4v4h-4zM370 581h52v4h-52zM374 585h48v4h-48zM382 589h40v4h-40zM386 593h36v4h-36zM386 597h36v4h-36zM302 601h4v4h-4zM314 601h8v4h-8zM390 601h32v4h-32zM302 605h20v4h-20zM342 605h4v4h-4zM390 605h24v4h-24zM418 605h4v4h-4zM302 609h20v4h-20zM330 609h16v4h-16zM390 609h24v4h-24zM418 609h4v4h-4zM302 613h20v4h-20zM330 613h12v4h-12zM402 613h12v4h-12zM418 613h4v4h-4zM302 617h24v4h-24zM334 617h12v4h-12zM390 617h24v4h-24zM418 617h4v4h-4zM302 621h20v4h-20zM334 621h12v4h-12zM394 621h8v4h-8zM406 621h8v4h-8zM418 621h4v4h-4zM306 625h8v4h-8zM398 625h4v4h-4zM418 625h4v4h-4zM394 629h4v4h-4zM406 629h12v4h-12zM390 633h32v4h-32zM394 637h4v4h-4zM402 637h4v4h-4zM418 637h4v4h-4zM390 641h4v4h-4zM406 641h4v4h-4zM414 641h4v4h-4z"/>
<path fill="#000" fill-opacity="0.06" d="M330 257h4v4h-4zM326 261h4v4h-4zM314 273h8v4h-8zM334 273h12v4h-12zM318 277h4v4h-4zM402 277h4v4h-4zM374 281h24v4h-24zM402 281h4v4h-4zM346 285h8v4h-8zM374 285h32v4h-32zM382 289h28v4h-28zM394 293h20v4h-20zM314 301h4v4h-4zM310 305h4v4h-4zM330 309h12v4h-12zM330 313h12v4h-12zM330 317h12v4h-12zM370 317h4v4h-4zM330 321h12v4h-12zM358 321h16v4h-16zM330 325h60v4h-60zM330 329h64v4h-64zM330 333h68v4h-68zM326 337h72v4h-72zM322 341h76v4h-76zM322 345h80v4h-80zM322 349h80v4h-80zM326 353h80v4h-80zM326 357h84v4h-84zM330 361h84v4h-84zM330 365h4v4h-4zM346 365h68v4h-68zM354 369h24v4h-24zM382 369h36v4h-36zM358 373h20v4h-20zM386 373h36v4h-36zM366 377h12v4h-12zM390 377h32v4h-32zM370 381h8v4h-8zM394 381h28v4h-28zM398 385h24v4h-24zM402 389h20v4h-20zM406 393h16v4h-16zM410 397h12v4h-12zM414 401h8v4h-8zM414 405h8v4h-8zM398 545h16v4h-16zM394 549h20v4h-20zM410 553h4v4h-4zM378 557h8v4h-8zM410 557h4v4h-4zM378 561h8v4h-8zM410 561h4v4h-4zM378 565h8v4h-8zM410 565h4v4h-4zM410 569h4v4h-4zM410 573h4v4h-4zM370 585h4v4h-4zM366 589h16v4h-16zM362 593h24v4h-24zM298 597h4v4h-4zM338 597h48v4h-48zM298 601h4v4h-4zM334 601h56v4h-56zM298 605h4v4h-4zM334 605h8v4h-8zM346 605h44v4h-44zM414 605h4v4h-4zM298 609h4v4h-4zM346 609h36v4h-36zM414 609h4v4h-4zM298 613h4v4h-4zM342 613h20v4h-20zM366 613h8v4h-8zM378 613h4v4h-4zM390 613h12v4h-12zM414 613h4v4h-4zM298 617h4v4h-4zM326 617h8v4h-8zM346 617h16v4h-16zM378 617h12v4h-12zM414 617h4v4h-4zM298 621h4v4h-4zM322 621h12v4h-12zM346 621h12v4h-12zM378 621h16v4h-16zM402 621h4v4h-4zM414 621h4v4h-4zM298 625h8v4h-8zM314 625h56v4h-56zM374 625h24v4h-24zM402 625h16v4h-16zM298 629h32v4h-32zM334 629h12v4h-12zM350 629h20v4h-20zM374 629h4v4h-4zM382 629h4v4h-4zM390 629h4v4h-4zM398 629h8v4h-8zM418 629h4v4h-4zM298 633h48v4h-48zM350 633h20v4h-20zM378 633h12v4h-12zM298 637h44v4h-44zM350 637h16v4h-16zM378 637h12v4h-12zM398 637h4v4h-4zM406 637h12v4h-12zM298 641h48v4h-48zM358 641h8v4h-8zM378 641h12v4h-12zM394 641h12v4h-12zM410 641h4v4h-4zM418 641h4v4h-4z"/>
<path fill="#000" fill-opacity="0.1" d="M314 341h8v4h-8zM310 345h12v4h-12zM306 349h16v4h-16zM302 353h24v4h-24zM322 357h4v4h-4zM322 361h8v4h-8zM326 365h4v4h-4zM334 365h12v4h-12zM326 369h28v4h-28zM378 369h4v4h-4zM326 373h32v4h-32zM378 373h8v4h-8zM334 377h16v4h-16zM354 377h12v4h-12zM378 377h12v4h-12zM334 381h20v4h-20zM362 381h8v4h-8zM378 381h16v4h-16zM338 385h12v4h-12zM366 385h32v4h-32zM342 389h4v4h-4zM370 389h32v4h-32zM374 393h32v4h-32zM382 397h28v4h-28zM386 401h28v4h-28zM354 405h20v4h-20zM378 405h36v4h-36zM358 409h24v4h-24zM394 409h28v4h-28zM362 413h20v4h-20zM398 413h24v4h-24zM366 417h12v4h-12zM402 417h20v4h-20zM370 421h8v4h-8zM406 421h16v4h-16zM374 425h4v4h-4zM410 425h12v4h-12zM414 429h8v4h-8zM402 433h20v4h-20zM390 437h32v4h-32zM342 441h4v4h-4zM386 441h28v4h-28zM342 445h4v4h-4zM390 445h12v4h-12zM322 449h8v4h-8zM322 453h8v4h-8zM322 457h8v4h-8zM322 461h8v4h-8zM298 485h8v4h-8zM394 509h16v4h-16zM394 513h28v4h-28zM398 517h24v4h-24zM406 521h16v4h-16zM298 541h12v4h-12zM374 541h4v4h-4zM298 545h16v4h-16zM382 545h4v4h-4zM390 545h8v4h-8zM414 545h4v4h-4zM298 549h4v4h-4zM306 549h8v4h-8zM330 549h8v4h-8zM382 549h8v4h-8zM414 549h4v4h-4zM298 553h12v4h-12zM318 553h8v4h-8zM330 553h12v4h-12zM350 553h4v4h-4zM378 553h32v4h-32zM298 557h16v4h-16zM326 557h16v4h-16zM350 557h4v4h-4zM386 557h24v4h-24zM298 561h16v4h-16zM326 561h16v4h-16zM386 561h24v4h-24zM298 565h16v4h-16zM326 565h8v4h-8zM386 565h24v4h-24zM298 569h8v4h-8zM394 569h16v4h-16zM298 573h8v4h-8zM402 573h8v4h-8zM298 577h8v4h-8zM402 577h8v4h-8zM298 581h4v4h-4zM382 609h8v4h-8zM362 613h4v4h-4zM374 613h4v4h-4zM382 613h8v4h-8zM362 617h12v4h-12zM358 621h4v4h-4zM366 621h12v4h-12zM370 625h4v4h-4zM330 629h4v4h-4zM346 629h4v4h-4zM370 629h4v4h-4zM378 629h4v4h-4zM386 629h4v4h-4zM346 633h4v4h-4zM370 633h8v4h-8zM342 637h8v4h-8zM366 637h12v4h-12zM390 637h4v4h-4zM346 641h12v4h-12zM366 641h4v4h-4zM374 641h4v4h-4z"/>
<path fill="#000" fill-opacity="0.18" d="M314 357h8v4h-8zM322 365h4v4h-4zM322 369h4v4h-4zM322 373h4v4h-4zM326 377h8v4h-8zM350 377h4v4h-4zM326 381h8v4h-8zM354 381h8v4h-8zM326 385h12v4h-12zM350 385h4v4h-4zM362 385h4v4h-4zM326 389h16v4h-16zM346 389h8v4h-8zM362 389h8v4h-8zM330 393h44v4h-44zM334 397h4v4h-4zM354 397h28v4h-28zM362 401h24v4h-24zM338 405h16v4h-16zM374 405h4v4h-4zM342 409h16v4h-16zM382 409h12v4h-12zM346 413h16v4h-16zM382 413h16v4h-16zM350 417h16v4h-16zM378 417h24v4h-24zM354 421h16v4h-16zM378 421h28v4h-28zM358 425h16v4h-16zM378 425h32v4h-32zM362 429h52v4h-52zM370 433h8v4h-8zM382 433h20v4h-20zM382 437h8v4h-8zM414 441h8v4h-8zM346 445h4v4h-4zM386 445h4v4h-4zM402 445h20v4h-20zM342 449h8v4h-8zM394 449h28v4h-28zM342 453h8v4h-8zM406 453h16v4h-16zM342 457h4v4h-4zM414 457h8v4h-8zM418 461h4v4h-4zM350 465h4v4h-4zM346 469h12v4h-12zM310 473h4v4h-4zM298 477h4v4h-4zM298 481h8v4h-8zM298 489h16v4h-16zM298 493h32v4h-32zM338 493h4v4h-4zM298 497h44v4h-44zM298 501h44v4h-44zM370 501h16v4h-16zM298 505h44v4h-44zM370 505h40v4h-40zM298 509h44v4h-44zM374 509h20v4h-20zM410 509h12v4h-12zM298 513h44v4h-44zM378 513h16v4h-16zM298 517h44v4h-44zM382 517h16v4h-16zM298 521h44v4h-44zM390 521h16v4h-16zM298 525h44v4h-44zM398 525h24v4h-24zM298 529h24v4h-24zM334 529h8v4h-8zM362 529h16v4h-16zM414 529h8v4h-8zM302 533h8v4h-8zM314 533h4v4h-4zM362 533h16v4h-16zM302 537h8v4h-8zM314 537h4v4h-4zM358 537h20v4h-20zM318 541h4v4h-4zM326 541h8v4h-8zM338 541h36v4h-36zM318 545h60v4h-60zM386 545h4v4h-4zM302 549h4v4h-4zM314 549h16v4h-16zM338 549h24v4h-24zM370 549h12v4h-12zM390 549h4v4h-4zM418 549h4v4h-4zM310 553h8v4h-8zM326 553h4v4h-4zM342 553h8v4h-8zM354 553h24v4h-24zM414 553h8v4h-8zM314 557h12v4h-12zM342 557h8v4h-8zM354 557h24v4h-24zM414 557h8v4h-8zM314 561h4v4h-4zM322 561h4v4h-4zM342 561h36v4h-36zM414 561h8v4h-8zM314 565h4v4h-4zM322 565h4v4h-4zM366 565h12v4h-12zM414 565h8v4h-8zM370 569h8v4h-8zM414 569h8v4h-8zM414 573h8v4h-8zM414 577h8v4h-8zM374 617h4v4h-4zM362 621h4v4h-4zM370 641h4v4h-4z"/>
<path fill="#000" fill-opacity="0.3" d="M298 365h12v4h-12zM298 369h8v4h-8zM318 377h8v4h-8zM318 381h8v4h-8zM314 385h12v4h-12zM354 385h8v4h-8zM310 389h16v4h-16zM354 389h8v4h-8zM298 393h32v4h-32zM298 397h36v4h-36zM338 397h16v4h-16zM298 401h40v4h-40zM350 401h12v4h-12zM298 405h40v4h-40zM298 409h4v4h-4zM318 409h24v4h-24zM298 413h4v4h-4zM314 413h4v4h-4zM326 413h20v4h-20zM314 417h4v4h-4zM334 417h16v4h-16zM338 421h16v4h-16zM342 425h16v4h-16zM346 429h16v4h-16zM350 433h20v4h-20zM378 433h4v4h-4zM354 437h28v4h-28zM330 441h4v4h-4zM354 441h32v4h-32zM330 445h12v4h-12zM354 445h32v4h-32zM310 449h8v4h-8zM330 449h12v4h-12zM358 449h4v4h-4zM386 449h8v4h-8zM310 453h12v4h-12zM330 453h12v4h-12zM394 453h12v4h-12zM314 457h8v4h-8zM330 457h4v4h-4zM406 457h8v4h-8zM314 461h8v4h-8zM410 461h8v4h-8zM414 465h8v4h-8zM306 469h12v4h-12zM342 469h4v4h-4zM418 469h4v4h-4zM306 473h4v4h-4zM314 473h4v4h-4zM346 473h12v4h-12zM310 477h4v4h-4zM310 481h4v4h-4zM310 485h12v4h-12zM314 489h12v4h-12zM330 493h8v4h-8zM362 493h8v4h-8zM378 493h8v4h-8zM366 497h32v4h-32zM366 501h4v4h-4zM386 501h28v4h-28zM362 505h8v4h-8zM410 505h12v4h-12zM362 509h12v4h-12zM362 513h16v4h-16zM342 517h32v4h-32zM378 517h4v4h-4zM342 521h32v4h-32zM378 521h12v4h-12zM342 525h32v4h-32zM378 525h20v4h-20zM322 529h12v4h-12zM350 529h12v4h-12zM378 529h36v4h-36zM298 533h4v4h-4zM318 533h8v4h-8zM330 533h16v4h-16zM350 533h12v4h-12zM378 533h16v4h-16zM406 533h16v4h-16zM298 537h4v4h-4zM318 537h40v4h-40zM378 537h16v4h-16zM310 541h8v4h-8zM322 541h4v4h-4zM334 541h4v4h-4zM378 541h20v4h-20zM414 541h8v4h-8zM314 545h4v4h-4zM378 545h4v4h-4zM418 545h4v4h-4zM362 549h8v4h-8zM318 561h4v4h-4zM318 565h4v4h-4z"/>
<path fill="#000" fill-opacity="0.4" d="M298 357h16v4h-16zM298 361h16v4h-16zM318 361h4v4h-4zM318 365h4v4h-4zM318 369h4v4h-4zM298 373h8v4h-8zM318 373h4v4h-4zM314 377h4v4h-4zM310 381h8v4h-8zM310 385h4v4h-4zM298 389h12v4h-12zM338 401h12v4h-12zM302 409h16v4h-16zM302 413h4v4h-4zM310 413h4v4h-4zM318 413h8v4h-8zM298 417h8v4h-8zM318 417h16v4h-16zM298 421h20v4h-20zM322 421h16v4h-16zM298 425h20v4h-20zM330 425h12v4h-12zM298 429h16v4h-16zM334 429h12v4h-12zM298 433h20v4h-20zM342 433h8v4h-8zM298 437h24v4h-24zM334 437h20v4h-20zM298 441h32v4h-32zM334 441h8v4h-8zM346 441h8v4h-8zM298 445h32v4h-32zM350 445h4v4h-4zM298 449h12v4h-12zM318 449h4v4h-4zM350 449h8v4h-8zM362 449h24v4h-24zM298 453h12v4h-12zM350 453h16v4h-16zM374 453h20v4h-20zM298 457h16v4h-16zM350 457h16v4h-16zM394 457h12v4h-12zM298 461h16v4h-16zM354 461h4v4h-4zM402 461h8v4h-8zM298 465h32v4h-32zM354 465h4v4h-4zM378 465h4v4h-4zM402 465h12v4h-12zM298 469h8v4h-8zM318 469h24v4h-24zM382 469h8v4h-8zM410 469h8v4h-8zM298 473h8v4h-8zM318 473h28v4h-28zM358 473h4v4h-4zM386 473h8v4h-8zM418 473h4v4h-4zM302 477h8v4h-8zM314 477h16v4h-16zM342 477h24v4h-24zM374 477h4v4h-4zM382 477h20v4h-20zM418 477h4v4h-4zM306 481h4v4h-4zM314 481h12v4h-12zM346 481h60v4h-60zM306 485h4v4h-4zM322 485h4v4h-4zM354 485h40v4h-40zM410 485h12v4h-12zM326 489h4v4h-4zM338 489h4v4h-4zM354 489h16v4h-16zM378 489h12v4h-12zM342 493h4v4h-4zM354 493h8v4h-8zM370 493h8v4h-8zM386 493h16v4h-16zM342 497h4v4h-4zM350 497h16v4h-16zM398 497h20v4h-20zM342 501h4v4h-4zM354 501h4v4h-4zM362 501h4v4h-4zM414 501h8v4h-8zM342 505h4v4h-4zM358 505h4v4h-4zM342 509h4v4h-4zM358 509h4v4h-4zM342 513h8v4h-8zM354 513h8v4h-8zM374 517h4v4h-4zM374 525h4v4h-4zM342 529h8v4h-8zM310 533h4v4h-4zM326 533h4v4h-4zM346 533h4v4h-4zM394 533h12v4h-12zM310 537h4v4h-4zM394 537h28v4h-28zM398 541h16v4h-16z"/>
<path fill="#000" fill-opacity="0.45" d="M314 361h4v4h-4zM306 369h4v4h-4zM314 373h4v4h-4zM298 377h4v4h-4zM310 377h4v4h-4zM298 381h4v4h-4zM298 385h12v4h-12zM306 413h4v4h-4zM306 417h8v4h-8zM318 421h4v4h-4zM318 425h12v4h-12zM314 429h20v4h-20zM318 433h4v4h-4zM326 433h16v4h-16zM322 437h12v4h-12zM366 453h8v4h-8zM366 457h28v4h-28zM358 461h44v4h-44zM358 465h20v4h-20zM382 465h20v4h-20zM362 469h20v4h-20zM390 469h20v4h-20zM362 473h24v4h-24zM394 473h24v4h-24zM330 477h12v4h-12zM366 477h8v4h-8zM378 477h4v4h-4zM402 477h16v4h-16zM326 481h8v4h-8zM338 481h8v4h-8zM406 481h16v4h-16zM326 485h8v4h-8zM342 485h12v4h-12zM394 485h16v4h-16zM330 489h8v4h-8zM342 489h4v4h-4zM350 489h4v4h-4zM370 489h8v4h-8zM390 489h32v4h-32zM346 493h8v4h-8zM402 493h20v4h-20zM346 497h4v4h-4zM418 497h4v4h-4zM346 501h8v4h-8zM358 501h4v4h-4zM346 505h12v4h-12zM346 509h12v4h-12zM350 513h4v4h-4zM374 521h4v4h-4z"/>
<path fill="#000" fill-opacity="0.45" d="M310 365h8v4h-8zM310 369h8v4h-8zM306 373h8v4h-8zM302 377h8v4h-8zM302 381h8v4h-8zM322 433h4v4h-4zM334 457h8v4h-8zM346 457h4v4h-4zM330 461h24v4h-24zM330 465h20v4h-20zM358 469h4v4h-4zM334 481h4v4h-4zM334 485h8v4h-8zM346 489h4v4h-4z"/>
</g>
<rect x="290" y="20" width="140" height="225" fill="#808080"/>
<path fill="#808080" shape-rendering="crispEdges" d="M298 245h12v1h-12zM315 245h7v1h-7zM326 245h96v1h-96zM298 246h12v1h-12zM314 246h9v1h-9zM326 246h96v1h-96zM298 247h12v1h-12zM314 247h9v1h-9zM326 247h96v1h-96zM298 248h5v1h-5zM304 248h5v1h-5zM315 248h6v1h-6zM327 248h95v1h-95zM298 249h4v1h-4zM308 249h1v1h-1zM325 249h1v1h-1zM327 249h95v1h-95zM298 250h4v1h-4zM326 250h96v1h-96zM298 251h4v1h-4zM326 251h96v1h-96zM298 252h4v1h-4zM327 252h95v1h-95zM299 253h2v1h-2zM330 253h2v1h-2zM340 253h2v1h-2zM343 253h79v1h-79zM346 254h76v1h-76zM345 255h77v1h-77zM307 256h1v1h-1zM346 256h76v1h-76zM305 257h4v1h-4zM315 257h3v1h-3zM338 257h3v1h-3zM345 257h74v1h-74zM301 258h9v1h-9zM313 258h5v1h-5zM338 258h4v1h-4zM346 258h72v1h-72zM301 259h9v1h-9zM313 259h5v1h-5zM338 259h5v1h-5zM346 259h72v1h-72zM302 260h2v1h-2zM305 260h5v1h-5zM315 260h2v1h-2zM339 260h1v1h-1zM346 260h54v1h-54zM401 260h16v1h-16zM305 261h2v1h-2zM339 261h61v1h-61zM402 261h13v1h-13zM342 262h55v1h-55zM402 262h12v1h-12zM343 263h55v1h-55zM402 263h13v1h-13zM341 264h56v1h-56zM402 264h4v1h-4zM407 264h6v1h-6zM315 265h3v1h-3zM342 265h8v1h-8zM353 265h37v1h-37zM395 265h2v1h-2zM413 265h4v1h-4zM313 266h1v1h-1zM315 266h3v1h-3zM342 266h8v1h-8zM354 266h36v1h-36zM414 266h4v1h-4zM314 267h4v1h-4zM341 267h8v1h-8zM355 267h36v1h-36zM413 267h5v1h-5zM343 268h8v1h-8zM354 268h36v1h-36zM415 268h2v1h-2zM298 269h7v1h-7zM306 269h2v1h-2zM309 269h2v1h-2zM312 269h2v1h-2zM315 269h1v1h-1zM335 269h3v1h-3zM346 269h43v1h-43zM415 269h1v1h-1zM298 270h17v1h-17zM334 270h4v1h-4zM346 270h44v1h-44zM298 271h16v1h-16zM334 271h5v1h-5zM346 271h44v1h-44zM298 272h15v1h-15zM333 272h4v1h-4zM338 272h1v1h-1zM347 272h3v1h-3zM351 272h40v1h-40zM298 273h5v1h-5zM311 273h2v1h-2zM323 273h15v1h-15zM350 273h2v1h-2zM353 273h44v1h-44zM298 274h3v1h-3zM322 274h15v1h-15zM354 274h44v1h-44zM298 275h4v1h-4zM321 275h18v1h-18zM354 275h43v1h-43zM298 276h4v1h-4zM320 276h18v1h-18zM354 276h46v1h-46zM318 277h20v1h-20zM354 277h47v1h-47zM319 278h20v1h-20zM354 278h48v1h-48zM318 279h20v1h-20zM354 279h48v1h-48zM318 280h19v1h-19zM355 280h47v1h-47zM404 280h1v1h-1zM407 280h2v1h-2zM318 281h17v1h-17zM354 281h52v1h-52zM407 281h2v1h-2zM318 282h17v1h-17zM353 282h56v1h-56zM318 283h16v1h-16zM354 283h57v1h-57zM317 284h14v1h-14zM332 284h2v1h-2zM355 284h40v1h-40zM396 284h13v1h-13zM308 285h19v1h-19zM356 285h1v1h-1zM358 285h32v1h-32zM397 285h13v1h-13zM305 286h22v1h-22zM358 286h32v1h-32zM397 286h12v1h-12zM307 287h19v1h-19zM358 287h32v1h-32zM398 287h12v1h-12zM305 288h11v1h-11zM318 288h2v1h-2zM322 288h3v1h-3zM357 288h33v1h-33zM399 288h11v1h-11zM417 288h1v1h-1zM306 289h9v1h-9zM317 289h2v1h-2zM355 289h38v1h-38zM401 289h12v1h-12zM416 289h1v1h-1zM419 289h3v1h-3zM306 290h9v1h-9zM354 290h40v1h-40zM402 290h20v1h-20zM306 291h9v1h-9zM354 291h40v1h-40zM401 291h21v1h-21zM307 292h1v1h-1zM309 292h4v1h-4zM354 292h40v1h-40zM396 292h2v1h-2zM402 292h1v1h-1zM404 292h1v1h-1zM407 292h15v1h-15zM308 293h1v1h-1zM354 293h49v1h-49zM409 293h13v1h-13zM353 294h48v1h-48zM410 294h12v1h-12zM355 295h47v1h-47zM410 295h12v1h-12zM355 296h8v1h-8zM365 296h34v1h-34zM400 296h2v1h-2zM410 296h10v1h-10zM421 296h1v1h-1zM311 297h2v1h-2zM314 297h3v1h-3zM355 297h1v1h-1zM369 297h21v1h-21zM391 297h2v1h-2zM410 297h9v1h-9zM421 297h1v1h-1zM310 298h8v1h-8zM370 298h21v1h-21zM409 298h8v1h-8zM310 299h9v1h-9zM369 299h20v1h-20zM410 299h7v1h-7zM309 300h2v1h-2zM312 300h2v1h-2zM315 300h3v1h-3zM370 300h2v1h-2zM373 300h5v1h-5zM380 300h2v1h-2zM384 300h5v1h-5zM411 300h4v1h-4zM308 301h1v1h-1zM310 301h1v1h-1zM371 301h1v1h-1zM373 301h3v1h-3zM385 301h2v1h-2zM388 301h1v1h-1zM413 301h1v1h-1zM306 302h4v1h-4zM306 303h4v1h-4zM306 304h3v1h-3zM379 305h1v1h-1zM379 306h3v1h-3zM378 307h3v1h-3zM377 308h1v1h-1zM379 308h4v1h-4zM386 308h1v1h-1zM390 308h1v1h-1zM378 309h15v1h-15zM379 310h15v1h-15zM378 311h15v1h-15zM298 312h3v1h-3zM378 312h11v1h-11zM390 312h4v1h-4zM298 313h4v1h-4zM377 313h10v1h-10zM298 314h3v1h-3zM377 314h8v1h-8zM386 314h1v1h-1zM298 315h4v1h-4zM377 315h9v1h-9zM298 316h1v1h-1zM300 316h1v1h-1zM359 316h1v1h-1zM377 316h8v1h-8zM298 317h1v1h-1zM360 317h3v1h-3zM364 317h5v1h-5zM375 317h5v1h-5zM394 317h1v1h-1zM396 317h2v1h-2zM357 318h13v1h-13zM373 318h6v1h-6zM394 318h4v1h-4zM358 319h12v1h-12zM375 319h3v1h-3zM394 319h4v1h-4zM327 320h1v1h-1zM356 320h9v1h-9zM366 320h4v1h-4zM375 320h1v1h-1zM377 320h1v1h-1zM387 320h1v1h-1zM396 320h2v1h-2zM326 321h4v1h-4zM351 321h7v1h-7zM387 321h3v1h-3zM392 321h2v1h-2zM327 322h3v1h-3zM351 322h7v1h-7zM386 322h8v1h-8zM326 323h4v1h-4zM349 323h9v1h-9zM385 323h9v1h-9zM325 324h7v1h-7zM351 324h6v1h-6zM386 324h8v1h-8zM315 325h3v1h-3zM319 325h2v1h-2zM322 325h10v1h-10zM351 325h1v1h-1zM355 325h1v1h-1zM390 325h1v1h-1zM314 326h20v1h-20zM315 327h19v1h-19zM311 328h1v1h-1zM313 328h21v1h-21zM336 328h1v1h-1zM310 329h31v1h-31zM371 329h2v1h-2zM310 330h32v1h-32zM370 330h4v1h-4zM310 331h32v1h-32zM370 331h4v1h-4zM305 332h2v1h-2zM309 332h34v1h-34zM371 332h2v1h-2zM303 333h1v1h-1zM306 333h1v1h-1zM308 333h37v1h-37zM302 334h44v1h-44zM302 335h44v1h-44zM300 336h46v1h-46zM299 337h46v1h-46zM346 337h1v1h-1zM298 338h49v1h-49zM298 339h48v1h-48zM298 340h46v1h-46zM298 341h40v1h-40zM298 342h40v1h-40zM298 343h40v1h-40zM298 344h36v1h-36zM335 344h2v1h-2zM298 345h33v1h-33zM298 346h32v1h-32zM298 347h32v1h-32zM298 348h29v1h-29zM329 348h1v1h-1zM298 349h28v1h-28zM298 350h28v1h-28zM298 351h28v1h-28zM298 352h24v1h-24zM323 352h2v1h-2zM298 353h21v1h-21zM298 354h20v1h-20zM298 355h20v1h-20zM298 356h20v1h-20zM298 357h20v1h-20zM298 358h21v1h-21zM298 359h20v1h-20zM298 360h19v1h-19zM298 361h16v1h-16zM316 361h1v1h-1zM298 362h12v1h-12zM298 363h12v1h-12zM311 363h1v1h-1zM298 364h11v1h-11zM334 364h1v1h-1zM298 365h8v1h-8zM311 365h1v1h-1zM333 365h1v1h-1zM298 366h9v1h-9zM298 367h3v1h-3zM302 367h4v1h-4zM299 368h9v1h-9zM329 368h1v1h-1zM298 369h2v1h-2zM302 369h2v1h-2zM298 370h4v1h-4zM306 370h1v1h-1zM298 371h4v1h-4zM298 372h6v1h-6zM298 373h6v1h-6zM298 374h3v1h-3zM302 374h1v1h-1zM298 375h2v1h-2zM302 375h1v1h-1zM299 376h1v1h-1zM301 376h3v1h-3zM300 379h1v1h-1zM309 400h2v1h-2zM309 403h1v1h-1zM311 405h1v1h-1zM302 412h1v1h-1zM299 413h3v1h-3zM303 413h1v1h-1zM298 414h1v1h-1zM298 415h1v1h-1zM300 415h1v1h-1zM298 416h2v1h-2zM301 416h1v1h-1zM304 416h1v1h-1zM313 416h2v1h-2zM319 416h1v1h-1zM298 417h2v1h-2zM301 417h2v1h-2zM316 417h2v1h-2zM298 418h3v1h-3zM298 419h7v1h-7zM314 419h1v1h-1zM298 420h7v1h-7zM316 420h1v1h-1zM298 421h7v1h-7zM314 421h1v1h-1zM317 421h1v1h-1zM298 422h6v1h-6zM315 422h1v1h-1zM298 423h7v1h-7zM298 424h1v1h-1zM300 424h1v1h-1zM303 424h3v1h-3zM307 424h1v1h-1zM298 425h7v1h-7zM308 425h1v1h-1zM298 426h1v1h-1zM300 426h5v1h-5zM306 426h1v1h-1zM298 427h8v1h-8zM298 428h9v1h-9zM308 428h1v1h-1zM310 428h1v1h-1zM298 429h2v1h-2zM301 429h1v1h-1zM303 429h6v1h-6zM298 430h2v1h-2zM302 430h6v1h-6zM309 430h2v1h-2zM298 431h3v1h-3zM303 431h5v1h-5zM310 431h2v1h-2zM299 432h10v1h-10zM310 432h1v1h-1zM300 433h4v1h-4zM305 433h4v1h-4zM311 433h1v1h-1zM298 434h6v1h-6zM305 434h4v1h-4zM310 434h1v1h-1zM298 435h4v1h-4zM303 435h6v1h-6zM310 435h2v1h-2zM298 436h8v1h-8zM307 436h2v1h-2zM311 436h1v1h-1zM342 436h1v1h-1zM298 437h6v1h-6zM306 437h5v1h-5zM312 437h2v1h-2zM345 437h1v1h-1zM298 438h1v1h-1zM301 438h2v1h-2zM307 438h1v1h-1zM310 438h1v1h-1zM314 438h2v1h-2zM340 438h1v1h-1zM344 438h2v1h-2zM298 439h5v1h-5zM304 439h11v1h-11zM341 439h3v1h-3zM345 439h3v1h-3zM298 440h3v1h-3zM304 440h3v1h-3zM308 440h7v1h-7zM316 440h1v1h-1zM336 440h1v1h-1zM338 440h2v1h-2zM341 440h6v1h-6zM348 440h3v1h-3zM298 441h18v1h-18zM318 441h1v1h-1zM336 441h2v1h-2zM339 441h6v1h-6zM346 441h1v1h-1zM348 441h1v1h-1zM372 441h2v1h-2zM298 442h2v1h-2zM301 442h2v1h-2zM304 442h13v1h-13zM319 442h2v1h-2zM324 442h1v1h-1zM333 442h1v1h-1zM335 442h1v1h-1zM338 442h6v1h-6zM345 442h3v1h-3zM351 442h1v1h-1zM362 442h1v1h-1zM299 443h13v1h-13zM313 443h1v1h-1zM315 443h3v1h-3zM319 443h1v1h-1zM321 443h2v1h-2zM325 443h1v1h-1zM329 443h3v1h-3zM333 443h2v1h-2zM336 443h2v1h-2zM340 443h1v1h-1zM342 443h6v1h-6zM349 443h1v1h-1zM351 443h1v1h-1zM360 443h2v1h-2zM363 443h2v1h-2zM366 443h1v1h-1zM368 443h2v1h-2zM372 443h1v1h-1zM375 443h1v1h-1zM298 444h14v1h-14zM313 444h2v1h-2zM317 444h2v1h-2zM320 444h4v1h-4zM326 444h1v1h-1zM332 444h1v1h-1zM335 444h3v1h-3zM339 444h5v1h-5zM345 444h1v1h-1zM347 444h1v1h-1zM349 444h1v1h-1zM351 444h3v1h-3zM355 444h2v1h-2zM363 444h1v1h-1zM366 444h2v1h-2zM371 444h3v1h-3zM378 444h1v1h-1zM298 445h2v1h-2zM301 445h14v1h-14zM316 445h10v1h-10zM332 445h1v1h-1zM335 445h4v1h-4zM340 445h1v1h-1zM342 445h2v1h-2zM345 445h3v1h-3zM350 445h3v1h-3zM356 445h4v1h-4zM363 445h5v1h-5zM370 445h3v1h-3zM375 445h1v1h-1zM378 445h1v1h-1zM298 446h14v1h-14zM313 446h6v1h-6zM320 446h15v1h-15zM336 446h7v1h-7zM345 446h1v1h-1zM347 446h7v1h-7zM363 446h10v1h-10zM374 446h1v1h-1zM376 446h1v1h-1zM378 446h1v1h-1zM298 447h3v1h-3zM304 447h9v1h-9zM314 447h5v1h-5zM320 447h2v1h-2zM324 447h13v1h-13zM338 447h3v1h-3zM342 447h2v1h-2zM345 447h1v1h-1zM348 447h1v1h-1zM350 447h9v1h-9zM360 447h3v1h-3zM365 447h4v1h-4zM371 447h3v1h-3zM377 447h2v1h-2zM298 448h8v1h-8zM307 448h7v1h-7zM315 448h13v1h-13zM330 448h3v1h-3zM334 448h5v1h-5zM340 448h2v1h-2zM346 448h1v1h-1zM349 448h1v1h-1zM352 448h6v1h-6zM359 448h1v1h-1zM364 448h12v1h-12zM377 448h2v1h-2zM298 449h8v1h-8zM308 449h11v1h-11zM322 449h13v1h-13zM337 449h2v1h-2zM345 449h1v1h-1zM347 449h3v1h-3zM353 449h2v1h-2zM356 449h3v1h-3zM360 449h17v1h-17zM298 450h2v1h-2zM303 450h14v1h-14zM319 450h11v1h-11zM331 450h3v1h-3zM335 450h8v1h-8zM345 450h4v1h-4zM350 450h3v1h-3zM354 450h5v1h-5zM364 450h12v1h-12zM377 450h1v1h-1zM298 451h2v1h-2zM301 451h3v1h-3zM306 451h4v1h-4zM311 451h4v1h-4zM316 451h1v1h-1zM318 451h8v1h-8zM329 451h1v1h-1zM331 451h5v1h-5zM338 451h5v1h-5zM345 451h10v1h-10zM356 451h4v1h-4zM364 451h7v1h-7zM373 451h2v1h-2zM376 451h3v1h-3zM298 452h10v1h-10zM311 452h18v1h-18zM330 452h22v1h-22zM353 452h2v1h-2zM356 452h3v1h-3zM361 452h1v1h-1zM363 452h2v1h-2zM367 452h3v1h-3zM371 452h1v1h-1zM298 453h2v1h-2zM301 453h2v1h-2zM304 453h8v1h-8zM313 453h3v1h-3zM317 453h8v1h-8zM326 453h34v1h-34zM361 453h2v1h-2zM365 453h2v1h-2zM368 453h1v1h-1zM372 453h1v1h-1zM377 453h1v1h-1zM298 454h2v1h-2zM301 454h13v1h-13zM316 454h24v1h-24zM342 454h14v1h-14zM359 454h2v1h-2zM363 454h1v1h-1zM366 454h1v1h-1zM368 454h1v1h-1zM372 454h2v1h-2zM298 455h1v1h-1zM300 455h5v1h-5zM306 455h8v1h-8zM316 455h38v1h-38zM355 455h3v1h-3zM365 455h2v1h-2zM368 455h1v1h-1zM299 456h2v1h-2zM302 456h20v1h-20zM324 456h11v1h-11zM337 456h4v1h-4zM342 456h2v1h-2zM345 456h9v1h-9zM356 456h1v1h-1zM360 456h1v1h-1zM298 457h3v1h-3zM304 457h1v1h-1zM307 457h24v1h-24zM333 457h3v1h-3zM337 457h15v1h-15zM354 457h1v1h-1zM360 457h4v1h-4zM298 458h3v1h-3zM302 458h16v1h-16zM319 458h8v1h-8zM330 458h16v1h-16zM348 458h1v1h-1zM351 458h4v1h-4zM361 458h3v1h-3zM299 459h3v1h-3zM304 459h21v1h-21zM326 459h30v1h-30zM299 460h4v1h-4zM308 460h12v1h-12zM322 460h14v1h-14zM337 460h2v1h-2zM343 460h1v1h-1zM345 460h4v1h-4zM350 460h5v1h-5zM362 460h1v1h-1zM299 461h2v1h-2zM303 461h13v1h-13zM317 461h23v1h-23zM342 461h14v1h-14zM360 461h1v1h-1zM363 461h2v1h-2zM366 461h1v1h-1zM300 462h3v1h-3zM304 462h4v1h-4zM309 462h7v1h-7zM317 462h10v1h-10zM328 462h2v1h-2zM331 462h7v1h-7zM339 462h2v1h-2zM343 462h12v1h-12zM356 462h1v1h-1zM300 463h2v1h-2zM303 463h2v1h-2zM306 463h31v1h-31zM338 463h3v1h-3zM342 463h14v1h-14zM298 464h6v1h-6zM305 464h2v1h-2zM308 464h8v1h-8zM318 464h6v1h-6zM325 464h12v1h-12zM338 464h15v1h-15zM355 464h1v1h-1zM302 465h1v1h-1zM305 465h1v1h-1zM307 465h18v1h-18zM326 465h15v1h-15zM343 465h8v1h-8zM352 465h1v1h-1zM354 465h2v1h-2zM359 465h1v1h-1zM298 466h1v1h-1zM300 466h2v1h-2zM304 466h1v1h-1zM306 466h3v1h-3zM310 466h16v1h-16zM327 466h11v1h-11zM339 466h10v1h-10zM351 466h5v1h-5zM358 466h1v1h-1zM298 467h1v1h-1zM301 467h4v1h-4zM306 467h1v1h-1zM308 467h12v1h-12zM321 467h19v1h-19zM342 467h4v1h-4zM351 467h7v1h-7zM298 468h4v1h-4zM303 468h2v1h-2zM307 468h1v1h-1zM311 468h1v1h-1zM315 468h21v1h-21zM343 468h2v1h-2zM349 468h2v1h-2zM352 468h6v1h-6zM299 469h2v1h-2zM303 469h2v1h-2zM308 469h2v1h-2zM311 469h2v1h-2zM315 469h18v1h-18zM334 469h2v1h-2zM344 469h4v1h-4zM351 469h1v1h-1zM353 469h3v1h-3zM357 469h1v1h-1zM359 469h1v1h-1zM298 470h4v1h-4zM303 470h1v1h-1zM305 470h1v1h-1zM309 470h1v1h-1zM311 470h2v1h-2zM317 470h7v1h-7zM325 470h9v1h-9zM335 470h2v1h-2zM344 470h4v1h-4zM351 470h3v1h-3zM356 470h1v1h-1zM360 470h1v1h-1zM298 471h4v1h-4zM311 471h7v1h-7zM320 471h11v1h-11zM333 471h2v1h-2zM343 471h2v1h-2zM351 471h2v1h-2zM358 471h1v1h-1zM298 472h1v1h-1zM302 472h3v1h-3zM307 472h1v1h-1zM310 472h2v1h-2zM315 472h1v1h-1zM318 472h14v1h-14zM356 472h1v1h-1zM359 472h1v1h-1zM298 473h4v1h-4zM304 473h1v1h-1zM306 473h8v1h-8zM319 473h1v1h-1zM325 473h4v1h-4zM332 473h2v1h-2zM353 473h1v1h-1zM357 473h1v1h-1zM359 473h1v1h-1zM299 474h1v1h-1zM301 474h3v1h-3zM307 474h2v1h-2zM313 474h1v1h-1zM315 474h1v1h-1zM321 474h2v1h-2zM324 474h1v1h-1zM326 474h2v1h-2zM329 474h1v1h-1zM298 475h5v1h-5zM307 475h2v1h-2zM315 475h3v1h-3zM326 475h2v1h-2zM298 476h7v1h-7zM306 476h1v1h-1zM299 477h4v1h-4zM305 477h1v1h-1zM308 477h2v1h-2zM298 478h2v1h-2zM301 478h3v1h-3zM305 478h2v1h-2zM298 479h7v1h-7zM308 479h1v1h-1zM298 480h9v1h-9zM308 480h2v1h-2zM314 480h1v1h-1zM303 481h1v1h-1zM305 481h5v1h-5zM313 481h2v1h-2zM298 482h2v1h-2zM301 482h1v1h-1zM306 482h2v1h-2zM311 482h4v1h-4zM322 482h1v1h-1zM327 482h1v1h-1zM299 483h5v1h-5zM305 483h5v1h-5zM315 483h2v1h-2zM303 484h9v1h-9zM313 484h1v1h-1zM321 484h1v1h-1zM326 484h2v1h-2zM306 485h9v1h-9zM326 485h1v1h-1zM331 485h1v1h-1zM299 486h2v1h-2zM303 486h13v1h-13zM323 486h1v1h-1zM328 486h1v1h-1zM304 487h5v1h-5zM310 487h5v1h-5zM321 487h1v1h-1zM325 487h1v1h-1zM331 487h1v1h-1zM305 488h3v1h-3zM309 488h5v1h-5zM315 488h2v1h-2zM325 488h3v1h-3zM303 489h2v1h-2zM306 489h9v1h-9zM318 489h1v1h-1zM329 489h1v1h-1zM302 490h2v1h-2zM305 490h13v1h-13zM319 490h2v1h-2zM327 490h1v1h-1zM305 491h13v1h-13zM324 491h1v1h-1zM307 492h4v1h-4zM313 492h5v1h-5zM314 493h2v1h-2zM301 534h2v1h-2zM304 534h1v1h-1zM310 534h1v1h-1zM341 534h1v1h-1zM346 534h1v1h-1zM298 535h2v1h-2zM301 535h1v1h-1zM303 535h3v1h-3zM307 535h3v1h-3zM311 535h1v1h-1zM338 535h3v1h-3zM354 535h1v1h-1zM302 536h3v1h-3zM306 536h1v1h-1zM308 536h3v1h-3zM338 536h1v1h-1zM341 536h2v1h-2zM344 536h1v1h-1zM347 536h1v1h-1zM349 536h2v1h-2zM354 536h1v1h-1zM356 536h1v1h-1zM298 537h4v1h-4zM303 537h1v1h-1zM305 537h4v1h-4zM310 537h2v1h-2zM313 537h1v1h-1zM338 537h7v1h-7zM348 537h5v1h-5zM300 538h2v1h-2zM303 538h9v1h-9zM313 538h1v1h-1zM315 538h1v1h-1zM338 538h4v1h-4zM344 538h1v1h-1zM346 538h4v1h-4zM355 538h1v1h-1zM298 539h3v1h-3zM304 539h12v1h-12zM334 539h1v1h-1zM337 539h3v1h-3zM341 539h3v1h-3zM348 539h1v1h-1zM350 539h2v1h-2zM355 539h1v1h-1zM298 540h2v1h-2zM301 540h1v1h-1zM303 540h9v1h-9zM313 540h1v1h-1zM315 540h1v1h-1zM335 540h11v1h-11zM348 540h2v1h-2zM299 541h15v1h-15zM321 541h2v1h-2zM326 541h1v1h-1zM332 541h4v1h-4zM337 541h7v1h-7zM345 541h2v1h-2zM298 542h2v1h-2zM301 542h6v1h-6zM308 542h8v1h-8zM319 542h2v1h-2zM323 542h2v1h-2zM334 542h2v1h-2zM339 542h8v1h-8zM349 542h1v1h-1zM353 542h2v1h-2zM298 543h2v1h-2zM305 543h4v1h-4zM310 543h3v1h-3zM314 543h4v1h-4zM321 543h1v1h-1zM323 543h2v1h-2zM326 543h1v1h-1zM333 543h4v1h-4zM338 543h4v1h-4zM343 543h3v1h-3zM353 543h6v1h-6zM361 543h3v1h-3zM371 543h1v1h-1zM303 544h1v1h-1zM305 544h3v1h-3zM309 544h1v1h-1zM318 544h7v1h-7zM328 544h1v1h-1zM337 544h5v1h-5zM343 544h1v1h-1zM360 544h2v1h-2zM369 544h2v1h-2zM373 544h1v1h-1zM376 544h1v1h-1zM380 544h1v1h-1zM419 544h2v1h-2zM305 545h2v1h-2zM308 545h1v1h-1zM310 545h1v1h-1zM318 545h1v1h-1zM320 545h1v1h-1zM322 545h4v1h-4zM327 545h1v1h-1zM335 545h2v1h-2zM338 545h2v1h-2zM341 545h3v1h-3zM345 545h1v1h-1zM356 545h2v1h-2zM360 545h1v1h-1zM362 545h2v1h-2zM366 545h1v1h-1zM369 545h1v1h-1zM379 545h3v1h-3zM418 545h4v1h-4zM305 546h1v1h-1zM307 546h3v1h-3zM316 546h1v1h-1zM320 546h2v1h-2zM324 546h3v1h-3zM334 546h8v1h-8zM344 546h3v1h-3zM359 546h1v1h-1zM363 546h1v1h-1zM367 546h1v1h-1zM369 546h2v1h-2zM373 546h1v1h-1zM379 546h3v1h-3zM419 546h3v1h-3zM315 547h1v1h-1zM319 547h3v1h-3zM323 547h1v1h-1zM332 547h1v1h-1zM335 547h1v1h-1zM357 547h9v1h-9zM379 547h4v1h-4zM418 547h4v1h-4zM319 548h2v1h-2zM322 548h1v1h-1zM324 548h1v1h-1zM327 548h1v1h-1zM335 548h1v1h-1zM341 548h6v1h-6zM348 548h1v1h-1zM357 548h8v1h-8zM366 548h3v1h-3zM371 548h2v1h-2zM374 548h2v1h-2zM379 548h3v1h-3zM415 548h1v1h-1zM418 548h4v1h-4zM318 549h3v1h-3zM323 549h1v1h-1zM334 549h1v1h-1zM338 549h2v1h-2zM342 549h1v1h-1zM358 549h7v1h-7zM377 549h4v1h-4zM415 549h2v1h-2zM418 549h1v1h-1zM298 550h1v1h-1zM319 550h2v1h-2zM322 550h2v1h-2zM332 550h2v1h-2zM335 550h2v1h-2zM345 550h1v1h-1zM347 550h1v1h-1zM357 550h9v1h-9zM367 550h1v1h-1zM373 550h1v1h-1zM376 550h1v1h-1zM378 550h5v1h-5zM413 550h5v1h-5zM344 551h3v1h-3zM348 551h2v1h-2zM351 551h1v1h-1zM358 551h7v1h-7zM366 551h1v1h-1zM368 551h1v1h-1zM376 551h1v1h-1zM379 551h4v1h-4zM415 551h3v1h-3zM298 552h2v1h-2zM330 552h4v1h-4zM342 552h8v1h-8zM351 552h1v1h-1zM356 552h2v1h-2zM361 552h6v1h-6zM368 552h1v1h-1zM375 552h1v1h-1zM378 552h3v1h-3zM415 552h1v1h-1zM418 552h1v1h-1zM421 552h1v1h-1zM298 553h1v1h-1zM302 553h1v1h-1zM334 553h1v1h-1zM345 553h2v1h-2zM349 553h1v1h-1zM352 553h1v1h-1zM363 553h2v1h-2zM379 553h11v1h-11zM411 553h5v1h-5zM419 553h3v1h-3zM298 554h4v1h-4zM303 554h1v1h-1zM329 554h2v1h-2zM343 554h6v1h-6zM350 554h2v1h-2zM356 554h4v1h-4zM361 554h1v1h-1zM363 554h3v1h-3zM381 554h9v1h-9zM410 554h3v1h-3zM418 554h4v1h-4zM298 555h1v1h-1zM345 555h6v1h-6zM352 555h1v1h-1zM357 555h1v1h-1zM382 555h8v1h-8zM410 555h3v1h-3zM417 555h1v1h-1zM419 555h3v1h-3zM298 556h3v1h-3zM327 556h1v1h-1zM330 556h3v1h-3zM335 556h1v1h-1zM344 556h1v1h-1zM349 556h1v1h-1zM353 556h1v1h-1zM365 556h2v1h-2zM382 556h8v1h-8zM410 556h4v1h-4zM417 556h5v1h-5zM298 557h8v1h-8zM329 557h2v1h-2zM336 557h1v1h-1zM349 557h1v1h-1zM356 557h1v1h-1zM358 557h1v1h-1zM363 557h1v1h-1zM365 557h2v1h-2zM368 557h1v1h-1zM388 557h1v1h-1zM390 557h4v1h-4zM406 557h10v1h-10zM417 557h5v1h-5zM298 558h9v1h-9zM329 558h1v1h-1zM331 558h2v1h-2zM334 558h3v1h-3zM345 558h1v1h-1zM348 558h1v1h-1zM350 558h3v1h-3zM354 558h2v1h-2zM358 558h2v1h-2zM363 558h2v1h-2zM366 558h1v1h-1zM369 558h2v1h-2zM389 558h6v1h-6zM406 558h16v1h-16zM298 559h2v1h-2zM301 559h5v1h-5zM327 559h2v1h-2zM331 559h3v1h-3zM335 559h2v1h-2zM349 559h7v1h-7zM357 559h2v1h-2zM361 559h4v1h-4zM366 559h1v1h-1zM368 559h1v1h-1zM371 559h1v1h-1zM390 559h4v1h-4zM406 559h16v1h-16zM298 560h5v1h-5zM309 560h1v1h-1zM331 560h4v1h-4zM338 560h3v1h-3zM342 560h1v1h-1zM350 560h5v1h-5zM356 560h7v1h-7zM368 560h4v1h-4zM373 560h1v1h-1zM385 560h1v1h-1zM389 560h7v1h-7zM405 560h17v1h-17zM298 561h1v1h-1zM301 561h3v1h-3zM306 561h5v1h-5zM327 561h2v1h-2zM334 561h6v1h-6zM353 561h8v1h-8zM363 561h1v1h-1zM367 561h8v1h-8zM378 561h10v1h-10zM389 561h10v1h-10zM400 561h3v1h-3zM405 561h17v1h-17zM298 562h5v1h-5zM305 562h1v1h-1zM308 562h3v1h-3zM320 562h1v1h-1zM330 562h6v1h-6zM352 562h3v1h-3zM356 562h2v1h-2zM360 562h5v1h-5zM366 562h3v1h-3zM370 562h52v1h-52zM298 563h2v1h-2zM302 563h2v1h-2zM306 563h3v1h-3zM310 563h2v1h-2zM318 563h2v1h-2zM322 563h1v1h-1zM335 563h7v1h-7zM353 563h5v1h-5zM359 563h63v1h-63zM298 564h5v1h-5zM304 564h1v1h-1zM306 564h5v1h-5zM317 564h1v1h-1zM320 564h2v1h-2zM325 564h2v1h-2zM328 564h7v1h-7zM337 564h4v1h-4zM355 564h3v1h-3zM359 564h8v1h-8zM368 564h54v1h-54zM298 565h1v1h-1zM306 565h2v1h-2zM309 565h2v1h-2zM314 565h2v1h-2zM317 565h5v1h-5zM325 565h6v1h-6zM333 565h1v1h-1zM338 565h1v1h-1zM340 565h1v1h-1zM352 565h1v1h-1zM362 565h60v1h-60zM304 566h16v1h-16zM321 566h1v1h-1zM323 566h1v1h-1zM327 566h7v1h-7zM359 566h2v1h-2zM362 566h60v1h-60zM305 567h7v1h-7zM313 567h5v1h-5zM320 567h15v1h-15zM337 567h1v1h-1zM361 567h9v1h-9zM371 567h51v1h-51zM306 568h7v1h-7zM314 568h7v1h-7zM322 568h12v1h-12zM335 568h2v1h-2zM362 568h60v1h-60zM303 569h7v1h-7zM329 569h6v1h-6zM336 569h1v1h-1zM362 569h60v1h-60zM301 570h9v1h-9zM330 570h8v1h-8zM361 570h61v1h-61zM303 571h7v1h-7zM330 571h8v1h-8zM362 571h60v1h-60zM302 572h7v1h-7zM329 572h9v1h-9zM361 572h24v1h-24zM386 572h1v1h-1zM389 572h33v1h-33zM298 573h1v1h-1zM301 573h9v1h-9zM331 573h10v1h-10zM358 573h25v1h-25zM384 573h1v1h-1zM389 573h33v1h-33zM298 574h12v1h-12zM330 574h12v1h-12zM357 574h25v1h-25zM389 574h33v1h-33zM298 575h12v1h-12zM331 575h11v1h-11zM358 575h23v1h-23zM390 575h32v1h-32zM298 576h13v1h-13zM312 576h1v1h-1zM331 576h10v1h-10zM352 576h1v1h-1zM355 576h1v1h-1zM357 576h27v1h-27zM388 576h34v1h-34zM298 577h13v1h-13zM312 577h1v1h-1zM339 577h2v1h-2zM351 577h2v1h-2zM354 577h1v1h-1zM356 577h27v1h-27zM384 577h38v1h-38zM298 578h17v1h-17zM350 578h72v1h-72zM298 579h15v1h-15zM350 579h72v1h-72zM298 580h13v1h-13zM350 580h72v1h-72zM298 581h12v1h-12zM312 581h1v1h-1zM347 581h75v1h-75zM298 582h12v1h-12zM346 582h76v1h-76zM298 583h13v1h-13zM346 583h76v1h-76zM298 584h12v1h-12zM343 584h1v1h-1zM345 584h77v1h-77zM298 585h8v1h-8zM343 585h79v1h-79zM298 586h8v1h-8zM341 586h81v1h-81zM298 587h8v1h-8zM343 587h79v1h-79zM298 588h7v1h-7zM342 588h2v1h-2zM345 588h77v1h-77zM298 589h9v1h-9zM346 589h76v1h-76zM298 590h9v1h-9zM346 590h76v1h-76zM298 591h8v1h-8zM345 591h77v1h-77zM298 592h8v1h-8zM346 592h76v1h-76zM298 593h9v1h-9zM346 593h76v1h-76zM298 594h7v1h-7zM346 594h76v1h-76zM298 595h8v1h-8zM346 595h76v1h-76zM298 596h7v1h-7zM346 596h76v1h-76zM298 597h8v1h-8zM346 597h53v1h-53zM406 597h16v1h-16zM298 598h8v1h-8zM346 598h53v1h-53zM406 598h16v1h-16zM298 599h8v1h-8zM346 599h52v1h-52zM407 599h15v1h-15zM298 600h7v1h-7zM346 600h54v1h-54zM406 600h1v1h-1zM408 600h14v1h-14zM305 601h1v1h-1zM308 601h6v1h-6zM323 601h11v1h-11zM343 601h59v1h-59zM409 601h2v1h-2zM414 601h8v1h-8zM306 602h8v1h-8zM322 602h12v1h-12zM342 602h60v1h-60zM414 602h8v1h-8zM305 603h1v1h-1zM307 603h7v1h-7zM323 603h12v1h-12zM342 603h60v1h-60zM414 603h8v1h-8zM303 604h2v1h-2zM306 604h10v1h-10zM322 604h12v1h-12zM336 604h1v1h-1zM340 604h34v1h-34zM375 604h3v1h-3zM379 604h23v1h-23zM403 604h1v1h-1zM414 604h8v1h-8zM302 605h2v1h-2zM305 605h6v1h-6zM313 605h2v1h-2zM317 605h1v1h-1zM319 605h17v1h-17zM338 605h33v1h-33zM378 605h25v1h-25zM417 605h1v1h-1zM419 605h1v1h-1zM421 605h1v1h-1zM302 606h8v1h-8zM313 606h57v1h-57zM382 606h24v1h-24zM301 607h9v1h-9zM315 607h56v1h-56zM382 607h25v1h-25zM302 608h9v1h-9zM313 608h33v1h-33zM347 608h8v1h-8zM356 608h14v1h-14zM384 608h11v1h-11zM396 608h11v1h-11zM298 609h41v1h-41zM348 609h1v1h-1zM363 609h1v1h-1zM367 609h2v1h-2zM385 609h9v1h-9zM395 609h19v1h-19zM298 610h39v1h-39zM386 610h8v1h-8zM398 610h17v1h-17zM298 611h40v1h-40zM387 611h6v1h-6zM399 611h15v1h-15zM298 612h40v1h-40zM339 612h2v1h-2zM385 612h10v1h-10zM399 612h16v1h-16zM420 612h1v1h-1zM298 613h43v1h-43zM382 613h12v1h-12zM398 613h20v1h-20zM421 613h1v1h-1zM298 614h44v1h-44zM382 614h12v1h-12zM398 614h24v1h-24zM298 615h44v1h-44zM382 615h13v1h-13zM399 615h23v1h-23zM298 616h43v1h-43zM383 616h11v1h-11zM398 616h5v1h-5zM405 616h6v1h-6zM412 616h5v1h-5zM418 616h4v1h-4zM298 617h14v1h-14zM313 617h29v1h-29zM383 617h11v1h-11zM400 617h1v1h-1zM404 617h7v1h-7zM420 617h2v1h-2zM298 618h12v1h-12zM313 618h29v1h-29zM381 618h1v1h-1zM383 618h11v1h-11zM406 618h4v1h-4zM298 619h12v1h-12zM314 619h29v1h-29zM382 619h12v1h-12zM407 619h2v1h-2zM298 620h13v1h-13zM314 620h28v1h-28zM383 620h4v1h-4zM388 620h2v1h-2zM391 620h2v1h-2zM407 620h3v1h-3zM298 621h43v1h-43zM348 621h2v1h-2zM382 621h4v1h-4zM387 621h1v1h-1zM389 621h1v1h-1zM414 621h3v1h-3zM298 622h44v1h-44zM346 622h4v1h-4zM381 622h1v1h-1zM383 622h3v1h-3zM414 622h4v1h-4zM298 623h44v1h-44zM347 623h3v1h-3zM381 623h1v1h-1zM383 623h2v1h-2zM414 623h5v1h-5zM298 624h33v1h-33zM332 624h11v1h-11zM347 624h3v1h-3zM354 624h1v1h-1zM356 624h1v1h-1zM383 624h2v1h-2zM392 624h1v1h-1zM416 624h1v1h-1zM298 625h33v1h-33zM333 625h10v1h-10zM350 625h7v1h-7zM382 625h4v1h-4zM391 625h1v1h-1zM298 626h32v1h-32zM335 626h8v1h-8zM350 626h8v1h-8zM382 626h4v1h-4zM389 626h6v1h-6zM298 627h32v1h-32zM334 627h8v1h-8zM350 627h8v1h-8zM382 627h4v1h-4zM391 627h3v1h-3zM298 628h31v1h-31zM335 628h2v1h-2zM338 628h3v1h-3zM350 628h4v1h-4zM355 628h2v1h-2zM383 628h3v1h-3zM390 628h4v1h-4zM298 629h29v1h-29zM336 629h1v1h-1zM340 629h1v1h-1zM356 629h1v1h-1zM367 629h3v1h-3zM375 629h2v1h-2zM298 630h28v1h-28zM366 630h3v1h-3zM375 630h3v1h-3zM298 631h28v1h-28zM366 631h3v1h-3zM370 631h1v1h-1zM373 631h5v1h-5zM298 632h27v1h-27zM366 632h5v1h-5zM376 632h1v1h-1zM298 633h17v1h-17zM365 633h5v1h-5zM298 634h16v1h-16zM366 634h4v1h-4zM298 635h16v1h-16zM366 635h4v1h-4zM299 636h4v1h-4zM305 636h4v1h-4zM310 636h3v1h-3zM368 636h1v1h-1zM303 637h1v1h-1zM310 637h1v1h-1zM383 641h1v1h-1zM382 642h3v1h-3zM382 643h4v1h-4zM382 644h3v1h-3z"/>
<path fill="#808080" shape-rendering="crispEdges" d="M378 448h1v1h-1zM380 457h1v1h-1zM415 464h2v1h-2zM416 468h1v2h-1zM419 466h2v1h-2zM410 469h1v2h-1zM381 475h2v1h-2zM385 479h2v3h-2zM388 480h4v1h-4zM389 481h2v2h-2zM393 479h5v1h-5zM397 480h1v3h-1zM400 478h1v1h-1zM391 482h3v1h-3zM386 483h2v1h-2z"/>
<path fill="#ffe595" shape-rendering="crispEdges" d="M308 67h1v2h-1zM314 67h5v3h-5zM315 66h3v1h-3zM303 84h2v1h-2zM303 85h1v2h-1zM307 83h3v1h-3zM301 89h1v1h-1zM300 94h2v1h-2zM299 102h5v3h-5zM299 105h3v3h-3zM303 104h2v2h-2zM306 106h14v2h-14zM310 104h7v2h-7zM309 108h4v1h-4zM299 113h2v3h-2zM305 111h2v2h-2zM310 112h3v2h-3zM304 115h2v1h-2zM308 119h2v1h-2zM334 113h3v3h-3zM299 121h2v4h-2zM302 127h1v1h-1zM311 126h3v1h-3zM305 132h3v2h-3zM310 132h8v2h-8zM313 131h3v2h-3zM318 129h1v1h-1zM317 138h2v2h-2zM331 136h5v2h-5zM337 136h1v1h-1zM327 144h2v1h-2zM300 197h3v1h-3zM349 219h7v2h-7zM350 224h6v2h-6zM358 227h7v3h-7zM360 226h4v2h-4zM338 232h3v3h-3zM343 231h8v3h-8zM346 230h4v3h-4zM352 233h5v1h-5zM361 232h6v4h-6zM363 231h3v2h-3zM359 237h2v1h-2zM343 239h5v2h-5zM346 237h6v2h-6zM339 240h1v1h-1zM299 237h2v3h-2zM417 241h4v4h-4zM387 257h4v2h-4zM379 258h2v2h-2zM382 262h2v1h-2zM392 259h1v3h-1zM385 261h1v1h-1z"/>
<ellipse cx="356.9" cy="292.7" rx="4.3" ry="2.9" fill="#c6c6c6" transform="rotate(-35 356.9 292.7)"/>
<ellipse cx="360.6" cy="297.2" rx="2.5" ry="2.0" fill="#c6c6c6" transform="rotate(-20 360.6 297.2)"/>
<ellipse cx="376" cy="302.3" rx="4.3" ry="2.1" fill="#c6c6c6" transform="rotate(12 376 302.3)"/>
<ellipse cx="366" cy="299.6" rx="1.3" ry="0.9" fill="#c6c6c6" transform="rotate(0 366 299.6)"/>
<ellipse cx="402.7" cy="299.7" rx="1.5" ry="3.2" fill="#c6c6c6" transform="rotate(-12 402.7 299.7)"/>
<ellipse cx="405.4" cy="312.5" rx="3.6" ry="3.1" fill="#c6c6c6" transform="rotate(0 405.4 312.5)"/>
<ellipse cx="372.3" cy="337.6" rx="2.5" ry="2.8" fill="#c6c6c6" transform="rotate(0 372.3 337.6)"/>
<ellipse cx="366" cy="338.6" rx="1.9" ry="1.4" fill="#c6c6c6" transform="rotate(0 366 338.6)"/>
<ellipse cx="398.2" cy="330.8" rx="2.2" ry="2.3" fill="#c6c6c6" transform="rotate(0 398.2 330.8)"/>
<polygon fill="#c6c6c6" points="384.6,328.2 386.2,327.6 388.6,330.5 392.8,336.6 391.4,340.2 390.3,338.4 387.6,337.2 385.2,333.4"/>
</g>
</g>
<g id="axes" stroke="#000" stroke-width="1" fill="none" shape-rendering="crispEdges">
<path d="M298.5 25.5H421.5V644.5H298.5Z"/>
<path d="M291 644.5H298"/>
<path d="M295 624.5H298"/>
<path d="M295 604.5H298"/>
<path d="M295 583.5H298"/>
<path d="M295 562.5H298"/>
<path d="M291 542.5H298"/>
<path d="M295 521.5H298"/>
<path d="M295 500.5H298"/>
<path d="M295 480.5H298"/>
<path d="M295 459.5H298"/>
<path d="M291 438.5H298"/>
<path d="M295 418.5H298"/>
<path d="M295 397.5H298"/>
<path d="M295 376.5H298"/>
<path d="M295 356.5H298"/>
<path d="M291 335.5H298"/>
<path d="M295 314.5H298"/>
<path d="M295 294.5H298"/>
<path d="M295 273.5H298"/>
<path d="M295 253.5H298"/>
<path d="M291 232.5H298"/>
<path d="M295 211.5H298"/>
<path d="M295 191.5H298"/>
<path d="M295 170.5H298"/>
<path d="M295 149.5H298"/>
<path d="M291 129.5H298"/>
<path d="M295 108.5H298"/>
<path d="M295 87.5H298"/>
<path d="M295 67.5H298"/>
<path d="M295 46.5H298"/>
<path d="M291 25.5H298"/>
<path d="M298.5 645V648"/>
<path d="M318.5 645V648"/>
<path d="M339.5 645V648"/>
<path d="M359.5 645V650"/>
<path d="M380.5 645V648"/>
<path d="M401.5 645V648"/>
<path d="M421.5 645V648"/>
</g>
<text font-size="12" text-anchor="middle" transform="translate(289,642.8) rotate(-90)">0°</text>
<text font-size="12" text-anchor="middle" transform="translate(289,540.8) rotate(-90)">5°</text>
<text font-size="12" text-anchor="middle" transform="translate(289,436.8) rotate(-90)">10°</text>
<text font-size="12" text-anchor="middle" transform="translate(289,333.8) rotate(-90)">15°</text>
<text font-size="12" text-anchor="middle" transform="translate(289,230.8) rotate(-90)">20°</text>
<text font-size="12" text-anchor="middle" transform="translate(289,127.8) rotate(-90)">25°</text>
<text font-size="12" text-anchor="middle" transform="translate(289,23.8) rotate(-90)">30°</text>
<text font-size="12" x="360.8" y="664" text-anchor="middle">-25°</text>
<rect x="0.5" y="675.5" width="719" height="123" fill="#ffffcc" stroke="#000" stroke-width="1" shape-rendering="crispEdges"/>
<g shape-rendering="crispEdges">
<rect x="48" y="692" width="16" height="18" fill="#fffdc8"/>
<rect x="64" y="692" width="16" height="18" fill="#fffabf"/>
<rect x="80" y="692" width="16" height="18" fill="#fff6b6"/>
<rect x="96" y="692" width="16" height="18" fill="#fff2ad"/>
<rect x="112" y="692" width="16" height="18" fill="#ffefa4"/>
<rect x="128" y="692" width="16" height="18" fill="#ffeb9c"/>
<rect x="144" y="692" width="16" height="18" fill="#ffe793"/>
<rect x="160" y="692" width="16" height="18" fill="#fee38b"/>
<rect x="176" y="692" width="16" height="18" fill="#fedf83"/>
<rect x="192" y="692" width="16" height="18" fill="#fedb7a"/>
<rect x="208" y="692" width="16" height="18" fill="#fed572"/>
<rect x="224" y="692" width="16" height="18" fill="#fecd69"/>
<rect x="240" y="692" width="16" height="18" fill="#fec661"/>
<rect x="256" y="692" width="16" height="18" fill="#febe59"/>
<rect x="272" y="692" width="16" height="18" fill="#feb650"/>
<rect x="288" y="692" width="16" height="18" fill="#feae4a"/>
<rect x="304" y="692" width="16" height="18" fill="#fea747"/>
<rect x="320" y="692" width="16" height="18" fill="#fea044"/>
<rect x="336" y="692" width="16" height="18" fill="#fd9841"/>
<rect x="352" y="692" width="16" height="18" fill="#fd913e"/>
<rect x="368" y="692" width="16" height="18" fill="#fd873a"/>
<rect x="384" y="692" width="16" height="18" fill="#fd7a37"/>
<rect x="400" y="692" width="16" height="18" fill="#fc6e33"/>
<rect x="416" y="692" width="16" height="18" fill="#fc612f"/>
<rect x="432" y="692" width="16" height="18" fill="#fc542c"/>
<rect x="448" y="692" width="16" height="18" fill="#fa4929"/>
<rect x="464" y="692" width="16" height="18" fill="#f43e26"/>
<rect x="480" y="692" width="16" height="18" fill="#f03423"/>
<rect x="496" y="692" width="16" height="18" fill="#ea2a20"/>
<rect x="512" y="692" width="16" height="18" fill="#e61f1d"/>
<rect x="528" y="692" width="16" height="18" fill="#df171d"/>
<rect x="544" y="692" width="16" height="18" fill="#d8121f"/>
<rect x="560" y="692" width="16" height="18" fill="#d00d21"/>
<rect x="576" y="692" width="16" height="18" fill="#c80823"/>
<rect x="592" y="692" width="16" height="18" fill="#c10325"/>
<rect x="608" y="692" width="16" height="18" fill="#b70026"/>
<rect x="624" y="692" width="16" height="18" fill="#ab0026"/>
<rect x="640" y="692" width="16" height="18" fill="#9e0026"/>
<rect x="656" y="692" width="16" height="18" fill="#920026"/>
<rect x="672" y="692" width="17" height="18" fill="#860026"/>
</g><g stroke="#000" stroke-width="1" shape-rendering="crispEdges">
<path d="M48.5 710V714"/>
<path d="M64.5 710V713"/>
<path d="M80.5 710V713"/>
<path d="M96.5 710V713"/>
<path d="M112.5 710V714"/>
<path d="M128.5 710V713"/>
<path d="M144.5 710V713"/>
<path d="M160.5 710V713"/>
<path d="M176.5 710V714"/>
<path d="M192.5 710V713"/>
<path d="M208.5 710V713"/>
<path d="M224.5 710V713"/>
<path d="M240.5 710V714"/>
<path d="M256.5 710V713"/>
<path d="M272.5 710V713"/>
<path d="M288.5 710V713"/>
<path d="M304.5 710V714"/>
<path d="M320.5 710V713"/>
<path d="M336.5 710V713"/>
<path d="M352.5 710V713"/>
<path d="M368.5 710V714"/>
<path d="M384.5 710V713"/>
<path d="M400.5 710V713"/>
<path d="M416.5 710V713"/>
<path d="M432.5 710V714"/>
<path d="M448.5 710V713"/>
<path d="M464.5 710V713"/>
<path d="M480.5 710V713"/>
<path d="M496.5 710V714"/>
<path d="M512.5 710V713"/>
<path d="M528.5 710V713"/>
<path d="M544.5 710V713"/>
<path d="M560.5 710V714"/>
<path d="M576.5 710V713"/>
<path d="M592.5 710V713"/>
<path d="M608.5 710V713"/>
<path d="M624.5 710V714"/>
<path d="M640.5 710V713"/>
<path d="M656.5 710V713"/>
<path d="M672.5 710V713"/>
<path d="M688.5 710V714"/>
</g>
<text font-size="12" x="47.0" y="725" text-anchor="middle">0</text>
<text font-size="12" x="110.6" y="725" text-anchor="middle">0.1</text>
<text font-size="12" x="174.6" y="725" text-anchor="middle">0.2</text>
<text font-size="12" x="238.6" y="725" text-anchor="middle">0.3</text>
<text font-size="12" x="302.6" y="725" text-anchor="middle">0.4</text>
<text font-size="12" x="366.6" y="725" text-anchor="middle">0.5</text>
<text font-size="12" x="430.6" y="725" text-anchor="middle">0.6</text>
<text font-size="12" x="494.6" y="725" text-anchor="middle">0.7</text>
<text font-size="12" x="558.6" y="725" text-anchor="middle">0.8</text>
<text font-size="12" x="622.6" y="725" text-anchor="middle">0.9</text>
<text font-size="12" x="688.8" y="725" text-anchor="middle">1</text>
<text font-size="11" font-weight="bold" transform="matrix(1 0 0 0.92 48 743)" textLength="282.7">ABI L2+ Aerosol Optical Depth at 550 nm (1)</text>
<text font-size="11" transform="matrix(1 0 0 0.92 48 754)" textLength="628.7">Experimental NRT AOD 4 hour composite created from ABI L2 data from GOES-19. Fields generated by Atlantic</text>
<text font-size="11" transform="matrix(1 0 0 0.92 48 765)" textLength="185.7">OceanWatch node at NOAA/AOML</text>
<text font-size="11" transform="matrix(1 0 0 0.92 48 776)" textLength="137">(2026-01-15T18:00:00Z)</text>
<text font-size="11" transform="matrix(1 0 0 0.92 48 787)" textLength="271">Data courtesy of USDOC/NOAA/OAR/AOML/PHOD</text>
</svg></body></html>
